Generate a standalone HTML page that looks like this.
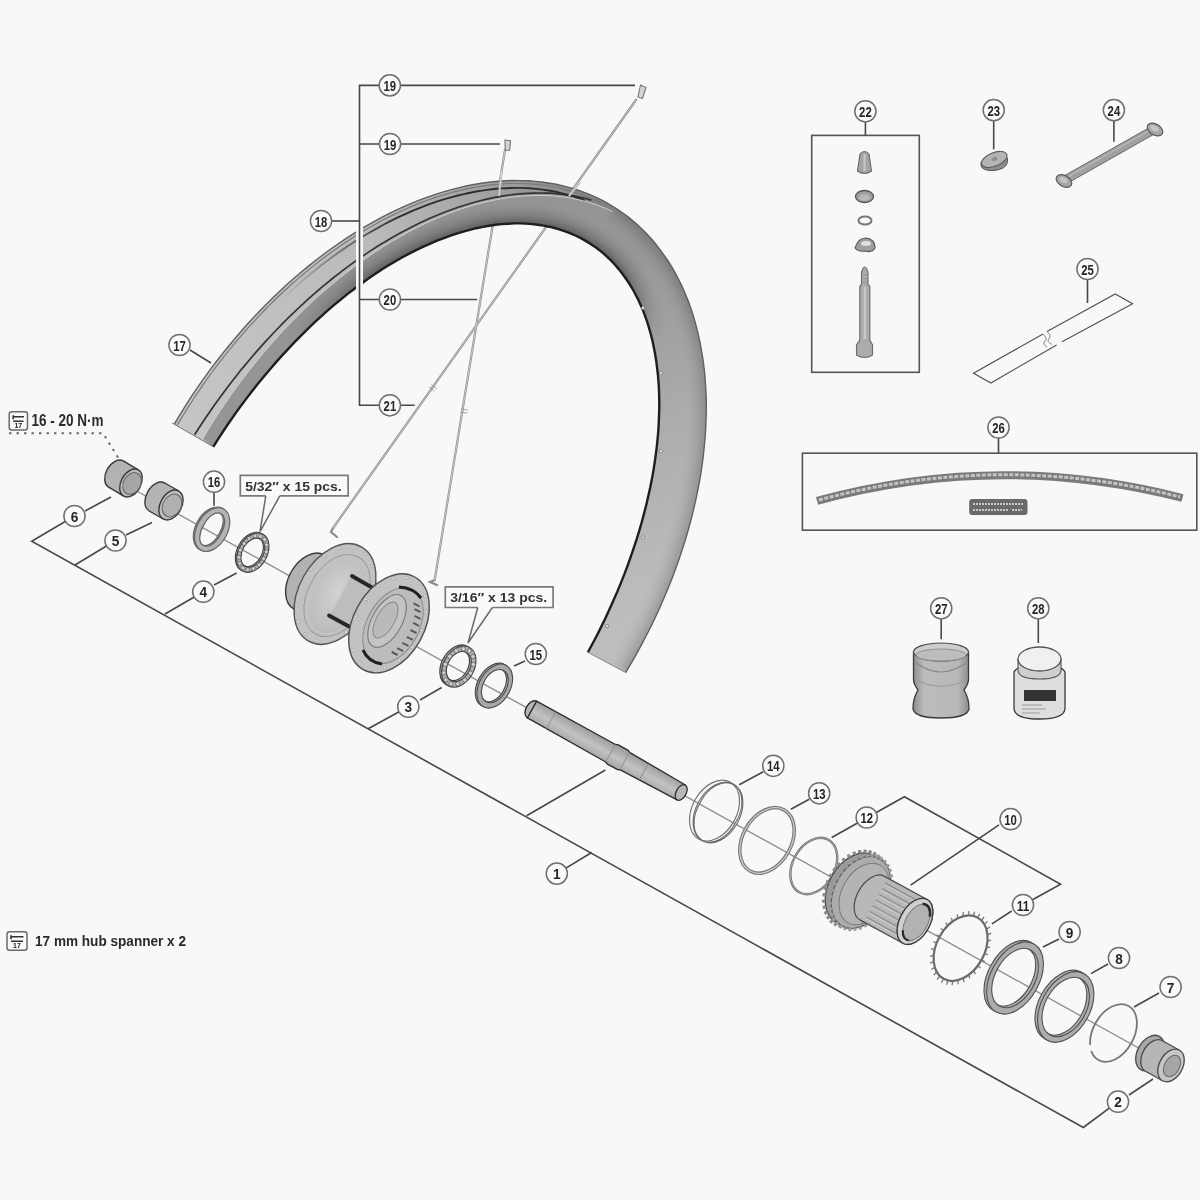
<!DOCTYPE html>
<html><head><meta charset="utf-8"><style>
html,body{margin:0;padding:0;background:#f8f8f8;width:1200px;height:1200px;overflow:hidden}
svg{display:block;filter:blur(0.6px)}
text{font-family:"Liberation Sans",sans-serif;font-weight:bold;fill:#262626}
</style></head><body>
<svg width="1200" height="1200" viewBox="0 0 1200 1200">
<rect width="1200" height="1200" fill="#f8f8f8"/>
<g stroke="#8a8a8a" stroke-width="2.2" fill="none" stroke-linecap="round">
<path d="M636,100 L333,528 L331,532 L337,537"/>
<path d="M505,150 L434.7,580 L430,582 L437,585"/>
</g>
<g stroke="#d8d8d8" stroke-width="0.8" fill="none">
<path d="M636,100 L333,528"/><path d="M505,150 L434.7,580"/>
</g>
<line x1="431.1" y1="384.7" x2="436.8" y2="388.7" stroke="#9a9a9a" stroke-width="0.9"/>
<line x1="429.2" y1="387.3" x2="434.9" y2="391.3" stroke="#9a9a9a" stroke-width="0.9"/>
<line x1="460.8" y1="408.9" x2="467.7" y2="410" stroke="#9a9a9a" stroke-width="0.9"/>
<line x1="460.3" y1="412" x2="467.2" y2="413.1" stroke="#9a9a9a" stroke-width="0.9"/>
<path d="M640.5,85 l5.5,2.5 l-3.5,11 l-4.5,-1.5 z" fill="#d4d4d4" stroke="#777" stroke-width="1.1"/>
<path d="M505,140 l5.5,0.8 l-0.8,9.5 l-4.5,0 z" fill="#d4d4d4" stroke="#777" stroke-width="1.1"/>
<defs><clipPath id="sideclip"><path d="M202.7,438.8 L206.2,433.0 L209.7,427.1 L213.4,421.3 L217.0,415.6 L220.8,409.9 L224.6,404.2 L228.5,398.6 L232.4,393.0 L236.4,387.5 L240.4,382.0 L244.5,376.6 L248.7,371.2 L252.9,365.9 L257.1,360.6 L261.4,355.4 L265.7,350.3 L270.1,345.2 L274.6,340.2 L279.0,335.2 L283.5,330.3 L288.1,325.5 L292.7,320.8 L297.3,316.1 L302.0,311.5 L306.7,306.9 L311.4,302.5 L316.2,298.1 L321.0,293.8 L325.8,289.5 L330.7,285.4 L335.6,281.3 L340.5,277.3 L345.4,273.4 L350.4,269.6 L355.4,265.8 L360.3,262.2 L365.4,258.6 L370.4,255.1 L375.4,251.7 L380.5,248.5 L385.5,245.2 L390.6,242.1 L395.7,239.1 L400.8,236.2 L405.9,233.4 L411.0,230.6 L416.1,228.0 L421.2,225.5 L426.3,223.0 L431.4,220.7 L436.5,218.4 L441.6,216.3 L446.7,214.3 L451.7,212.3 L456.8,210.5 L461.8,208.8 L466.9,207.1 L471.9,205.6 L476.9,204.2 L481.9,202.9 L486.9,201.7 L491.8,200.6 L496.7,199.6 L501.6,198.7 L506.5,197.9 L511.4,197.2 L516.2,196.7 L521.0,196.2 L525.8,195.9 L530.5,195.6 L535.2,195.5 L539.8,195.5 L544.5,195.5 L549.1,195.7 L553.6,196.0 L558.1,196.4 L562.6,196.9 L567.0,197.5 L571.4,198.3 L575.7,199.1 L580.0,200.0 L584.2,201.1 L588.4,202.2 L592.5,203.5 L596.6,204.8 L600.6,206.3 L604.6,207.9 L608.5,209.6 L612.4,211.3 L614.8,207.6 L620.4,211.3 L625.9,215.2 L631.2,219.4 L636.3,223.8 L641.3,228.4 L646.1,233.2 L650.8,238.3 L655.3,243.5 L659.6,248.9 L663.7,254.6 L667.7,260.4 L671.5,266.5 L675.1,272.7 L678.5,279.1 L681.7,285.7 L684.7,292.5 L687.6,299.5 L690.2,306.6 L692.7,313.9 L694.9,321.3 L697.0,328.9 L698.8,336.6 L700.5,344.5 L701.9,352.5 L703.1,360.7 L704.2,368.9 L705.0,377.3 L705.6,385.8 L706.0,394.4 L706.2,403.2 L706.2,412.0 L706.0,420.9 L705.6,429.9 L705.0,438.9 L704.1,448.1 L703.1,457.3 L701.9,466.5 L700.4,475.9 L698.8,485.2 L696.9,494.6 L694.9,504.1 L692.6,513.5 L690.2,523.0 L687.5,532.5 L684.7,542.0 L681.6,551.5 L678.4,561.1 L675.0,570.6 L671.4,580.0 L667.6,589.5 L663.6,598.9 L659.5,608.3 L655.2,617.6 L650.7,626.9 L646.0,636.2 L641.2,645.3 L636.2,654.5 L631.0,663.5 L625.7,672.4 L587.9,652.2 L592.5,643.7 L597.0,635.2 L601.3,626.6 L605.5,618.0 L609.5,609.3 L613.4,600.6 L617.2,591.9 L620.8,583.1 L624.3,574.4 L627.6,565.6 L630.7,556.9 L633.7,548.1 L636.6,539.4 L639.3,530.7 L641.8,522.0 L644.1,513.3 L646.3,504.7 L648.3,496.1 L650.2,487.6 L651.9,479.1 L653.4,470.6 L654.7,462.3 L655.9,453.9 L656.9,445.7 L657.7,437.6 L658.4,429.5 L658.8,421.5 L659.1,413.6 L659.3,405.8 L659.2,398.1 L659.0,390.6 L658.6,383.1 L658.0,375.8 L657.2,368.5 L656.3,361.5 L655.2,354.5 L653.9,347.7 L652.5,341.0 L650.9,334.5 L649.1,328.1 L647.2,321.9 L645.0,315.8 L642.8,309.9 L640.3,304.2 L637.7,298.6 L634.9,293.2 L632.0,288.0 L628.9,283.0 L625.6,278.2 L622.2,273.5 L618.7,269.1 L615.0,264.8 L611.2,260.7 L607.2,256.8 L603.0,253.2 L598.8,249.7 L594.4,246.4 L589.8,243.4 L585.2,240.6 L580.4,237.9 L575.4,235.5 L570.4,233.3 L565.2,231.3 L560.0,229.6 L554.6,228.0 L549.1,226.7 L543.5,225.6 L537.8,224.7 L532.0,224.1 L526.2,223.6 L520.2,223.4 L514.2,223.4 L508.0,223.7 L501.8,224.1 L495.5,224.8 L489.2,225.7 L482.8,226.9 L476.3,228.2 L469.8,229.8 L463.2,231.6 L456.6,233.6 L449.9,235.8 L443.2,238.3 L436.4,240.9 L429.7,243.8 L422.9,246.9 L416.1,250.1 L409.2,253.6 L402.4,257.3 L395.5,261.2 L388.7,265.3 L381.8,269.6 L375.0,274.1 L368.1,278.8 L361.3,283.7 L354.5,288.7 L347.7,293.9 L341.0,299.4 L334.2,304.9 L327.5,310.7 L320.9,316.6 L314.3,322.7 L307.8,328.9 L301.3,335.3 L294.8,341.9 L288.5,348.6 L282.2,355.4 L275.9,362.4 L269.8,369.5 L263.7,376.7 L257.7,384.1 L251.8,391.5 L246.0,399.1 L240.2,406.8 L234.6,414.6 L229.1,422.5 L223.7,430.5 L218.4,438.6 L213.2,446.8 Z"/></clipPath><clipPath id="rimclip"><path d="M174.3,424.2 L179.7,415.1 L185.3,406.1 L191.0,397.2 L196.9,388.4 L203.0,379.7 L209.1,371.2 L215.4,362.7 L221.9,354.4 L228.5,346.2 L235.2,338.2 L242.0,330.3 L248.9,322.5 L255.9,314.9 L263.1,307.5 L270.3,300.2 L277.6,293.2 L285.0,286.2 L292.5,279.5 L300.1,273.0 L307.8,266.6 L315.5,260.5 L323.3,254.5 L331.1,248.8 L339.0,243.3 L346.9,237.9 L354.9,232.8 L362.9,227.9 L370.9,223.3 L378.9,218.8 L387.0,214.6 L395.1,210.7 L403.2,206.9 L411.2,203.4 L419.3,200.2 L427.4,197.1 L435.4,194.4 L443.4,191.9 L451.4,189.6 L459.4,187.6 L467.3,185.8 L475.2,184.3 L483.0,183.0 L490.8,182.0 L498.5,181.3 L506.1,180.8 L513.7,180.5 L521.1,180.6 L528.5,180.8 L535.8,181.4 L543.0,182.2 L550.2,183.2 L557.2,184.5 L564.1,186.1 L570.8,187.9 L577.5,190.0 L584.1,192.3 L590.5,194.8 L596.7,197.7 L602.9,200.7 L608.9,204.0 L614.7,207.6 L620.4,211.3 L626.0,215.3 L631.4,219.6 L636.6,224.1 L641.7,228.8 L646.6,233.7 L651.3,238.8 L655.8,244.2 L660.2,249.8 L664.4,255.6 L668.4,261.5 L672.2,267.7 L675.8,274.1 L679.3,280.7 L682.5,287.4 L685.5,294.4 L688.4,301.5 L691.0,308.8 L693.4,316.2 L695.6,323.9 L697.6,331.6 L699.4,339.6 L701.0,347.6 L702.4,355.8 L703.6,364.2 L704.6,372.6 L705.3,381.2 L705.8,389.9 L706.2,398.8 L706.3,407.7 L706.1,416.7 L705.8,425.8 L705.3,435.0 L704.5,444.3 L703.5,453.6 L702.4,463.0 L701.0,472.5 L699.4,482.0 L697.5,491.5 L695.5,501.1 L693.3,510.7 L690.9,520.4 L688.2,530.0 L685.4,539.7 L682.3,549.4 L679.1,559.1 L675.6,568.7 L672.0,578.4 L668.2,588.0 L664.2,597.6 L660.0,607.2 L655.6,616.7 L651.1,626.1 L646.3,635.5 L641.4,644.9 L636.4,654.1 L631.1,663.3 L625.7,672.4 L587.9,652.2 L592.5,643.7 L597.0,635.2 L601.3,626.6 L605.5,618.0 L609.5,609.3 L613.4,600.6 L617.2,591.9 L620.8,583.1 L624.3,574.4 L627.6,565.6 L630.7,556.9 L633.7,548.1 L636.6,539.4 L639.3,530.7 L641.8,522.0 L644.1,513.3 L646.3,504.7 L648.3,496.1 L650.2,487.6 L651.9,479.1 L653.4,470.6 L654.7,462.3 L655.9,453.9 L656.9,445.7 L657.7,437.6 L658.4,429.5 L658.8,421.5 L659.1,413.6 L659.3,405.8 L659.2,398.1 L659.0,390.6 L658.6,383.1 L658.0,375.8 L657.2,368.5 L656.3,361.5 L655.2,354.5 L653.9,347.7 L652.5,341.0 L650.9,334.5 L649.1,328.1 L647.2,321.9 L645.0,315.8 L642.8,309.9 L640.3,304.2 L637.7,298.6 L634.9,293.2 L632.0,288.0 L628.9,283.0 L625.6,278.2 L622.2,273.5 L618.7,269.1 L615.0,264.8 L611.2,260.7 L607.2,256.8 L603.0,253.2 L598.8,249.7 L594.4,246.4 L589.8,243.4 L585.2,240.6 L580.4,237.9 L575.4,235.5 L570.4,233.3 L565.2,231.3 L560.0,229.6 L554.6,228.0 L549.1,226.7 L543.5,225.6 L537.8,224.7 L532.0,224.1 L526.2,223.6 L520.2,223.4 L514.2,223.4 L508.0,223.7 L501.8,224.1 L495.5,224.8 L489.2,225.7 L482.8,226.9 L476.3,228.2 L469.8,229.8 L463.2,231.6 L456.6,233.6 L449.9,235.8 L443.2,238.3 L436.4,240.9 L429.7,243.8 L422.9,246.9 L416.1,250.1 L409.2,253.6 L402.4,257.3 L395.5,261.2 L388.7,265.3 L381.8,269.6 L375.0,274.1 L368.1,278.8 L361.3,283.7 L354.5,288.7 L347.7,293.9 L341.0,299.4 L334.2,304.9 L327.5,310.7 L320.9,316.6 L314.3,322.7 L307.8,328.9 L301.3,335.3 L294.8,341.9 L288.5,348.6 L282.2,355.4 L275.9,362.4 L269.8,369.5 L263.7,376.7 L257.7,384.1 L251.8,391.5 L246.0,399.1 L240.2,406.8 L234.6,414.6 L229.1,422.5 L223.7,430.5 L218.4,438.6 L213.2,446.8 Z"/></clipPath></defs>
<defs><linearGradient id="sg" gradientUnits="userSpaceOnUse" x1="400" y1="150" x2="650" y2="650"><stop offset="0" stop-color="#939393"/><stop offset="0.35" stop-color="#969696"/><stop offset="0.66" stop-color="#adadad"/><stop offset="0.9" stop-color="#bcbcbc"/><stop offset="1" stop-color="#bebebe"/></linearGradient><linearGradient id="d1g" gradientUnits="userSpaceOnUse" x1="280" y1="0" x2="400" y2="0"><stop offset="0" stop-color="#2e2e2e" stop-opacity="0"/><stop offset="1" stop-color="#2e2e2e" stop-opacity="1"/></linearGradient><linearGradient id="cg" gradientUnits="userSpaceOnUse" x1="172" y1="423" x2="212" y2="446"><stop offset="0" stop-color="#b0b0b0"/><stop offset="1" stop-color="#c4c4c4"/></linearGradient></defs>
<defs><linearGradient id="chg" gradientUnits="userSpaceOnUse" x1="172" y1="0" x2="620" y2="0"><stop offset="0" stop-color="#c6c6c6"/><stop offset="0.45" stop-color="#bababa"/><stop offset="0.7" stop-color="#a2a2a2"/><stop offset="0.9" stop-color="#8c8c8c"/><stop offset="1" stop-color="#7c7c7c"/></linearGradient></defs>
<path d="M174.3,424.2 L179.7,415.1 L185.3,406.1 L191.0,397.2 L196.9,388.4 L203.0,379.7 L209.1,371.2 L215.4,362.7 L221.9,354.4 L228.5,346.2 L235.2,338.2 L242.0,330.3 L248.9,322.5 L255.9,314.9 L263.1,307.5 L270.3,300.2 L277.6,293.2 L285.0,286.2 L292.5,279.5 L300.1,273.0 L307.8,266.6 L315.5,260.5 L323.3,254.5 L331.1,248.8 L339.0,243.3 L346.9,237.9 L354.9,232.8 L362.9,227.9 L370.9,223.3 L378.9,218.8 L387.0,214.6 L395.1,210.7 L403.2,206.9 L411.2,203.4 L419.3,200.2 L427.4,197.1 L435.4,194.4 L443.4,191.9 L451.4,189.6 L459.4,187.6 L467.3,185.8 L475.2,184.3 L483.0,183.0 L490.8,182.0 L498.5,181.3 L506.1,180.8 L513.7,180.5 L521.1,180.6 L528.5,180.8 L535.8,181.4 L543.0,182.2 L550.2,183.2 L557.2,184.5 L564.1,186.1 L570.8,187.9 L577.5,190.0 L584.1,192.3 L590.5,194.8 L596.7,197.7 L602.9,200.7 L608.9,204.0 L614.7,207.6 L620.4,211.3 L626.0,215.3 L631.4,219.6 L636.6,224.1 L641.7,228.8 L646.6,233.7 L651.3,238.8 L655.8,244.2 L660.2,249.8 L664.4,255.6 L668.4,261.5 L672.2,267.7 L675.8,274.1 L679.3,280.7 L682.5,287.4 L685.5,294.4 L688.4,301.5 L691.0,308.8 L693.4,316.2 L695.6,323.9 L697.6,331.6 L699.4,339.6 L701.0,347.6 L702.4,355.8 L703.6,364.2 L704.6,372.6 L705.3,381.2 L705.8,389.9 L706.2,398.8 L706.3,407.7 L706.1,416.7 L705.8,425.8 L705.3,435.0 L704.5,444.3 L703.5,453.6 L702.4,463.0 L701.0,472.5 L699.4,482.0 L697.5,491.5 L695.5,501.1 L693.3,510.7 L690.9,520.4 L688.2,530.0 L685.4,539.7 L682.3,549.4 L679.1,559.1 L675.6,568.7 L672.0,578.4 L668.2,588.0 L664.2,597.6 L660.0,607.2 L655.6,616.7 L651.1,626.1 L646.3,635.5 L641.4,644.9 L636.4,654.1 L631.1,663.3 L625.7,672.4 L587.9,652.2 L592.5,643.7 L597.0,635.2 L601.3,626.6 L605.5,618.0 L609.5,609.3 L613.4,600.6 L617.2,591.9 L620.8,583.1 L624.3,574.4 L627.6,565.6 L630.7,556.9 L633.7,548.1 L636.6,539.4 L639.3,530.7 L641.8,522.0 L644.1,513.3 L646.3,504.7 L648.3,496.1 L650.2,487.6 L651.9,479.1 L653.4,470.6 L654.7,462.3 L655.9,453.9 L656.9,445.7 L657.7,437.6 L658.4,429.5 L658.8,421.5 L659.1,413.6 L659.3,405.8 L659.2,398.1 L659.0,390.6 L658.6,383.1 L658.0,375.8 L657.2,368.5 L656.3,361.5 L655.2,354.5 L653.9,347.7 L652.5,341.0 L650.9,334.5 L649.1,328.1 L647.2,321.9 L645.0,315.8 L642.8,309.9 L640.3,304.2 L637.7,298.6 L634.9,293.2 L632.0,288.0 L628.9,283.0 L625.6,278.2 L622.2,273.5 L618.7,269.1 L615.0,264.8 L611.2,260.7 L607.2,256.8 L603.0,253.2 L598.8,249.7 L594.4,246.4 L589.8,243.4 L585.2,240.6 L580.4,237.9 L575.4,235.5 L570.4,233.3 L565.2,231.3 L560.0,229.6 L554.6,228.0 L549.1,226.7 L543.5,225.6 L537.8,224.7 L532.0,224.1 L526.2,223.6 L520.2,223.4 L514.2,223.4 L508.0,223.7 L501.8,224.1 L495.5,224.8 L489.2,225.7 L482.8,226.9 L476.3,228.2 L469.8,229.8 L463.2,231.6 L456.6,233.6 L449.9,235.8 L443.2,238.3 L436.4,240.9 L429.7,243.8 L422.9,246.9 L416.1,250.1 L409.2,253.6 L402.4,257.3 L395.5,261.2 L388.7,265.3 L381.8,269.6 L375.0,274.1 L368.1,278.8 L361.3,283.7 L354.5,288.7 L347.7,293.9 L341.0,299.4 L334.2,304.9 L327.5,310.7 L320.9,316.6 L314.3,322.7 L307.8,328.9 L301.3,335.3 L294.8,341.9 L288.5,348.6 L282.2,355.4 L275.9,362.4 L269.8,369.5 L263.7,376.7 L257.7,384.1 L251.8,391.5 L246.0,399.1 L240.2,406.8 L234.6,414.6 L229.1,422.5 L223.7,430.5 L218.4,438.6 L213.2,446.8 Z" fill="url(#chg)"/>
<path d="M202.7,438.8 L206.2,433.0 L209.7,427.1 L213.4,421.3 L217.0,415.6 L220.8,409.9 L224.6,404.2 L228.5,398.6 L232.4,393.0 L236.4,387.5 L240.4,382.0 L244.5,376.6 L248.7,371.2 L252.9,365.9 L257.1,360.6 L261.4,355.4 L265.7,350.3 L270.1,345.2 L274.6,340.2 L279.0,335.2 L283.5,330.3 L288.1,325.5 L292.7,320.8 L297.3,316.1 L302.0,311.5 L306.7,306.9 L311.4,302.5 L316.2,298.1 L321.0,293.8 L325.8,289.5 L330.7,285.4 L335.6,281.3 L340.5,277.3 L345.4,273.4 L350.4,269.6 L355.4,265.8 L360.3,262.2 L365.4,258.6 L370.4,255.1 L375.4,251.7 L380.5,248.5 L385.5,245.2 L390.6,242.1 L395.7,239.1 L400.8,236.2 L405.9,233.4 L411.0,230.6 L416.1,228.0 L421.2,225.5 L426.3,223.0 L431.4,220.7 L436.5,218.4 L441.6,216.3 L446.7,214.3 L451.7,212.3 L456.8,210.5 L461.8,208.8 L466.9,207.1 L471.9,205.6 L476.9,204.2 L481.9,202.9 L486.9,201.7 L491.8,200.6 L496.7,199.6 L501.6,198.7 L506.5,197.9 L511.4,197.2 L516.2,196.7 L521.0,196.2 L525.8,195.9 L530.5,195.6 L535.2,195.5 L539.8,195.5 L544.5,195.5 L549.1,195.7 L553.6,196.0 L558.1,196.4 L562.6,196.9 L567.0,197.5 L571.4,198.3 L575.7,199.1 L580.0,200.0 L584.2,201.1 L588.4,202.2 L592.5,203.5 L596.6,204.8 L600.6,206.3 L604.6,207.9 L608.5,209.6 L612.4,211.3 L614.8,207.6 L620.4,211.3 L625.9,215.2 L631.2,219.4 L636.3,223.8 L641.3,228.4 L646.1,233.2 L650.8,238.3 L655.3,243.5 L659.6,248.9 L663.7,254.6 L667.7,260.4 L671.5,266.5 L675.1,272.7 L678.5,279.1 L681.7,285.7 L684.7,292.5 L687.6,299.5 L690.2,306.6 L692.7,313.9 L694.9,321.3 L697.0,328.9 L698.8,336.6 L700.5,344.5 L701.9,352.5 L703.1,360.7 L704.2,368.9 L705.0,377.3 L705.6,385.8 L706.0,394.4 L706.2,403.2 L706.2,412.0 L706.0,420.9 L705.6,429.9 L705.0,438.9 L704.1,448.1 L703.1,457.3 L701.9,466.5 L700.4,475.9 L698.8,485.2 L696.9,494.6 L694.9,504.1 L692.6,513.5 L690.2,523.0 L687.5,532.5 L684.7,542.0 L681.6,551.5 L678.4,561.1 L675.0,570.6 L671.4,580.0 L667.6,589.5 L663.6,598.9 L659.5,608.3 L655.2,617.6 L650.7,626.9 L646.0,636.2 L641.2,645.3 L636.2,654.5 L631.0,663.5 L625.7,672.4 L587.9,652.2 L592.5,643.7 L597.0,635.2 L601.3,626.6 L605.5,618.0 L609.5,609.3 L613.4,600.6 L617.2,591.9 L620.8,583.1 L624.3,574.4 L627.6,565.6 L630.7,556.9 L633.7,548.1 L636.6,539.4 L639.3,530.7 L641.8,522.0 L644.1,513.3 L646.3,504.7 L648.3,496.1 L650.2,487.6 L651.9,479.1 L653.4,470.6 L654.7,462.3 L655.9,453.9 L656.9,445.7 L657.7,437.6 L658.4,429.5 L658.8,421.5 L659.1,413.6 L659.3,405.8 L659.2,398.1 L659.0,390.6 L658.6,383.1 L658.0,375.8 L657.2,368.5 L656.3,361.5 L655.2,354.5 L653.9,347.7 L652.5,341.0 L650.9,334.5 L649.1,328.1 L647.2,321.9 L645.0,315.8 L642.8,309.9 L640.3,304.2 L637.7,298.6 L634.9,293.2 L632.0,288.0 L628.9,283.0 L625.6,278.2 L622.2,273.5 L618.7,269.1 L615.0,264.8 L611.2,260.7 L607.2,256.8 L603.0,253.2 L598.8,249.7 L594.4,246.4 L589.8,243.4 L585.2,240.6 L580.4,237.9 L575.4,235.5 L570.4,233.3 L565.2,231.3 L560.0,229.6 L554.6,228.0 L549.1,226.7 L543.5,225.6 L537.8,224.7 L532.0,224.1 L526.2,223.6 L520.2,223.4 L514.2,223.4 L508.0,223.7 L501.8,224.1 L495.5,224.8 L489.2,225.7 L482.8,226.9 L476.3,228.2 L469.8,229.8 L463.2,231.6 L456.6,233.6 L449.9,235.8 L443.2,238.3 L436.4,240.9 L429.7,243.8 L422.9,246.9 L416.1,250.1 L409.2,253.6 L402.4,257.3 L395.5,261.2 L388.7,265.3 L381.8,269.6 L375.0,274.1 L368.1,278.8 L361.3,283.7 L354.5,288.7 L347.7,293.9 L341.0,299.4 L334.2,304.9 L327.5,310.7 L320.9,316.6 L314.3,322.7 L307.8,328.9 L301.3,335.3 L294.8,341.9 L288.5,348.6 L282.2,355.4 L275.9,362.4 L269.8,369.5 L263.7,376.7 L257.7,384.1 L251.8,391.5 L246.0,399.1 L240.2,406.8 L234.6,414.6 L229.1,422.5 L223.7,430.5 L218.4,438.6 L213.2,446.8 Z" fill="url(#sg)"/>
<defs><filter id="sb" x="-10%" y="-10%" width="120%" height="120%"><feGaussianBlur stdDeviation="3"/></filter></defs>
<g clip-path="url(#sideclip)" fill="none"><g filter="url(#sb)">
<defs><linearGradient id="mg" gradientUnits="userSpaceOnUse" x1="0" y1="215" x2="0" y2="340"><stop offset="0" stop-color="#fff"/><stop offset="0.45" stop-color="#fff"/><stop offset="1" stop-color="#000"/></linearGradient><mask id="tm"><rect x="0" y="0" width="1200" height="1200" fill="url(#mg)"/></mask></defs>
<g mask="url(#tm)">
<path d="M213.2,446.8 L218.4,438.6 L223.7,430.5 L229.1,422.5 L234.6,414.6 L240.2,406.8 L246.0,399.1 L251.8,391.5 L257.7,384.1 L263.7,376.7 L269.8,369.5 L275.9,362.4 L282.2,355.4 L288.5,348.6 L294.8,341.9 L301.3,335.3 L307.8,328.9 L314.3,322.7 L320.9,316.6 L327.5,310.7 L334.2,304.9 L341.0,299.4 L347.7,293.9 L354.5,288.7 L361.3,283.7 L368.1,278.8 L375.0,274.1 L381.8,269.6 L388.7,265.3 L395.5,261.2 L402.4,257.3 L409.2,253.6 L416.1,250.1 L422.9,246.9 L429.7,243.8 L436.4,240.9 L443.2,238.3 L449.9,235.8 L456.6,233.6 L463.2,231.6 L469.8,229.8 L476.3,228.2 L482.8,226.9 L489.2,225.7 L495.5,224.8 L501.8,224.1 L508.0,223.7 L514.2,223.4 L520.2,223.4 L526.2,223.6 L532.0,224.1 L537.8,224.7 L543.5,225.6 L549.1,226.7 L554.6,228.0 L560.0,229.6 L565.2,231.3 L570.4,233.3 L575.4,235.5 L580.4,237.9 L585.2,240.6 L589.8,243.4 L594.4,246.4 L598.8,249.7 L603.0,253.2 L607.2,256.8 L611.2,260.7 L615.0,264.8 L618.7,269.1 L622.2,273.5 L625.6,278.2 L628.9,283.0 L632.0,288.0 L634.9,293.2 L637.7,298.6 L640.3,304.2 L642.8,309.9 L645.0,315.8 L647.2,321.9 L649.1,328.1 L650.9,334.5 L652.5,341.0 L653.9,347.7 L655.2,354.5 L656.3,361.5 L657.2,368.5 L658.0,375.8 L658.6,383.1 L659.0,390.6 L659.2,398.1 L659.3,405.8 L659.1,413.6 L658.8,421.5 L658.4,429.5 L657.7,437.6 L656.9,445.7 L655.9,453.9 L654.7,462.3 L653.4,470.6 L651.9,479.1 L650.2,487.6 L648.3,496.1 L646.3,504.7 L644.1,513.3 L641.8,522.0 L639.3,530.7 L636.6,539.4 L633.7,548.1 L630.7,556.9 L627.6,565.6 L624.3,574.4 L620.8,583.1 L617.2,591.9 L613.4,600.6 L609.5,609.3 L605.5,618.0 L601.3,626.6 L597.0,635.2 L592.5,643.7 L587.9,652.2" stroke="#000" stroke-opacity="0.1" stroke-width="30"/>
<path d="M213.2,446.8 L218.4,438.6 L223.7,430.5 L229.1,422.5 L234.6,414.6 L240.2,406.8 L246.0,399.1 L251.8,391.5 L257.7,384.1 L263.7,376.7 L269.8,369.5 L275.9,362.4 L282.2,355.4 L288.5,348.6 L294.8,341.9 L301.3,335.3 L307.8,328.9 L314.3,322.7 L320.9,316.6 L327.5,310.7 L334.2,304.9 L341.0,299.4 L347.7,293.9 L354.5,288.7 L361.3,283.7 L368.1,278.8 L375.0,274.1 L381.8,269.6 L388.7,265.3 L395.5,261.2 L402.4,257.3 L409.2,253.6 L416.1,250.1 L422.9,246.9 L429.7,243.8 L436.4,240.9 L443.2,238.3 L449.9,235.8 L456.6,233.6 L463.2,231.6 L469.8,229.8 L476.3,228.2 L482.8,226.9 L489.2,225.7 L495.5,224.8 L501.8,224.1 L508.0,223.7 L514.2,223.4 L520.2,223.4 L526.2,223.6 L532.0,224.1 L537.8,224.7 L543.5,225.6 L549.1,226.7 L554.6,228.0 L560.0,229.6 L565.2,231.3 L570.4,233.3 L575.4,235.5 L580.4,237.9 L585.2,240.6 L589.8,243.4 L594.4,246.4 L598.8,249.7 L603.0,253.2 L607.2,256.8 L611.2,260.7 L615.0,264.8 L618.7,269.1 L622.2,273.5 L625.6,278.2 L628.9,283.0 L632.0,288.0 L634.9,293.2 L637.7,298.6 L640.3,304.2 L642.8,309.9 L645.0,315.8 L647.2,321.9 L649.1,328.1 L650.9,334.5 L652.5,341.0 L653.9,347.7 L655.2,354.5 L656.3,361.5 L657.2,368.5 L658.0,375.8 L658.6,383.1 L659.0,390.6 L659.2,398.1 L659.3,405.8 L659.1,413.6 L658.8,421.5 L658.4,429.5 L657.7,437.6 L656.9,445.7 L655.9,453.9 L654.7,462.3 L653.4,470.6 L651.9,479.1 L650.2,487.6 L648.3,496.1 L646.3,504.7 L644.1,513.3 L641.8,522.0 L639.3,530.7 L636.6,539.4 L633.7,548.1 L630.7,556.9 L627.6,565.6 L624.3,574.4 L620.8,583.1 L617.2,591.9 L613.4,600.6 L609.5,609.3 L605.5,618.0 L601.3,626.6 L597.0,635.2 L592.5,643.7 L587.9,652.2" stroke="#000" stroke-opacity="0.14" stroke-width="14"/>
<path d="M213.2,446.8 L218.4,438.6 L223.7,430.5 L229.1,422.5 L234.6,414.6 L240.2,406.8 L246.0,399.1 L251.8,391.5 L257.7,384.1 L263.7,376.7 L269.8,369.5 L275.9,362.4 L282.2,355.4 L288.5,348.6 L294.8,341.9 L301.3,335.3 L307.8,328.9 L314.3,322.7 L320.9,316.6 L327.5,310.7 L334.2,304.9 L341.0,299.4 L347.7,293.9 L354.5,288.7 L361.3,283.7 L368.1,278.8 L375.0,274.1 L381.8,269.6 L388.7,265.3 L395.5,261.2 L402.4,257.3 L409.2,253.6 L416.1,250.1 L422.9,246.9 L429.7,243.8 L436.4,240.9 L443.2,238.3 L449.9,235.8 L456.6,233.6 L463.2,231.6 L469.8,229.8 L476.3,228.2 L482.8,226.9 L489.2,225.7 L495.5,224.8 L501.8,224.1 L508.0,223.7 L514.2,223.4 L520.2,223.4 L526.2,223.6 L532.0,224.1 L537.8,224.7 L543.5,225.6 L549.1,226.7 L554.6,228.0 L560.0,229.6 L565.2,231.3 L570.4,233.3 L575.4,235.5 L580.4,237.9 L585.2,240.6 L589.8,243.4 L594.4,246.4 L598.8,249.7 L603.0,253.2 L607.2,256.8 L611.2,260.7 L615.0,264.8 L618.7,269.1 L622.2,273.5 L625.6,278.2 L628.9,283.0 L632.0,288.0 L634.9,293.2 L637.7,298.6 L640.3,304.2 L642.8,309.9 L645.0,315.8 L647.2,321.9 L649.1,328.1 L650.9,334.5 L652.5,341.0 L653.9,347.7 L655.2,354.5 L656.3,361.5 L657.2,368.5 L658.0,375.8 L658.6,383.1 L659.0,390.6 L659.2,398.1 L659.3,405.8 L659.1,413.6 L658.8,421.5 L658.4,429.5 L657.7,437.6 L656.9,445.7 L655.9,453.9 L654.7,462.3 L653.4,470.6 L651.9,479.1 L650.2,487.6 L648.3,496.1 L646.3,504.7 L644.1,513.3 L641.8,522.0 L639.3,530.7 L636.6,539.4 L633.7,548.1 L630.7,556.9 L627.6,565.6 L624.3,574.4 L620.8,583.1 L617.2,591.9 L613.4,600.6 L609.5,609.3 L605.5,618.0 L601.3,626.6 L597.0,635.2 L592.5,643.7 L587.9,652.2" stroke="#000" stroke-opacity="0.22" stroke-width="5"/>
</g>
<path d="M614.8,207.6 L620.4,211.3 L625.9,215.2 L631.2,219.4 L636.3,223.8 L641.3,228.4 L646.1,233.2 L650.8,238.3 L655.3,243.5 L659.6,248.9 L663.7,254.6 L667.7,260.4 L671.5,266.5 L675.1,272.7 L678.5,279.1 L681.7,285.7 L684.7,292.5 L687.6,299.5 L690.2,306.6 L692.7,313.9 L694.9,321.3 L697.0,328.9 L698.8,336.6 L700.5,344.5 L701.9,352.5 L703.1,360.7 L704.2,368.9 L705.0,377.3 L705.6,385.8 L706.0,394.4 L706.2,403.2 L706.2,412.0 L706.0,420.9 L705.6,429.9 L705.0,438.9 L704.1,448.1 L703.1,457.3 L701.9,466.5 L700.4,475.9 L698.8,485.2 L696.9,494.6 L694.9,504.1 L692.6,513.5 L690.2,523.0 L687.5,532.5 L684.7,542.0 L681.6,551.5 L678.4,561.1 L675.0,570.6 L671.4,580.0 L667.6,589.5 L663.6,598.9 L659.5,608.3 L655.2,617.6 L650.7,626.9 L646.0,636.2 L641.2,645.3 L636.2,654.5 L631.0,663.5 L625.7,672.4" stroke="#000" stroke-opacity="0.05" stroke-width="28"/>
<path d="M614.8,207.6 L620.4,211.3 L625.9,215.2 L631.2,219.4 L636.3,223.8 L641.3,228.4 L646.1,233.2 L650.8,238.3 L655.3,243.5 L659.6,248.9 L663.7,254.6 L667.7,260.4 L671.5,266.5 L675.1,272.7 L678.5,279.1 L681.7,285.7 L684.7,292.5 L687.6,299.5 L690.2,306.6 L692.7,313.9 L694.9,321.3 L697.0,328.9 L698.8,336.6 L700.5,344.5 L701.9,352.5 L703.1,360.7 L704.2,368.9 L705.0,377.3 L705.6,385.8 L706.0,394.4 L706.2,403.2 L706.2,412.0 L706.0,420.9 L705.6,429.9 L705.0,438.9 L704.1,448.1 L703.1,457.3 L701.9,466.5 L700.4,475.9 L698.8,485.2 L696.9,494.6 L694.9,504.1 L692.6,513.5 L690.2,523.0 L687.5,532.5 L684.7,542.0 L681.6,551.5 L678.4,561.1 L675.0,570.6 L671.4,580.0 L667.6,589.5 L663.6,598.9 L659.5,608.3 L655.2,617.6 L650.7,626.9 L646.0,636.2 L641.2,645.3 L636.2,654.5 L631.0,663.5 L625.7,672.4" stroke="#000" stroke-opacity="0.07" stroke-width="14"/>
<path d="M614.8,207.6 L620.4,211.3 L625.9,215.2 L631.2,219.4 L636.3,223.8 L641.3,228.4 L646.1,233.2 L650.8,238.3 L655.3,243.5 L659.6,248.9 L663.7,254.6 L667.7,260.4 L671.5,266.5 L675.1,272.7 L678.5,279.1 L681.7,285.7 L684.7,292.5 L687.6,299.5 L690.2,306.6 L692.7,313.9 L694.9,321.3 L697.0,328.9 L698.8,336.6 L700.5,344.5 L701.9,352.5 L703.1,360.7 L704.2,368.9 L705.0,377.3 L705.6,385.8 L706.0,394.4 L706.2,403.2 L706.2,412.0 L706.0,420.9 L705.6,429.9 L705.0,438.9 L704.1,448.1 L703.1,457.3 L701.9,466.5 L700.4,475.9 L698.8,485.2 L696.9,494.6 L694.9,504.1 L692.6,513.5 L690.2,523.0 L687.5,532.5 L684.7,542.0 L681.6,551.5 L678.4,561.1 L675.0,570.6 L671.4,580.0 L667.6,589.5 L663.6,598.9 L659.5,608.3 L655.2,617.6 L650.7,626.9 L646.0,636.2 L641.2,645.3 L636.2,654.5 L631.0,663.5 L625.7,672.4" stroke="#000" stroke-opacity="0.1" stroke-width="5"/>
</g></g>
<path d="M194.6,434.8 L198.1,429.2 L201.7,423.8 L205.3,418.3 L209.0,412.9 L212.7,407.5 L216.5,402.2 L220.3,396.9 L224.2,391.7 L228.1,386.5 L232.1,381.3 L236.1,376.2 L240.1,371.1 L244.2,366.1 L248.3,361.2 L252.5,356.3 L256.7,351.4 L261.0,346.6 L265.2,341.9 L269.5,337.2 L273.9,332.5 L278.3,328.0 L282.7,323.4 L287.1,319.0 L291.6,314.6 L296.1,310.3 L300.6,306.0 L305.2,301.8 L309.8,297.7 L314.4,293.6 L319.0,289.6 L323.7,285.7 L328.4,281.8 L333.0,278.0 L337.8,274.3 L342.5,270.7 L347.2,267.1 L352.0,263.6 L356.8,260.2 L361.6,256.9 L366.4,253.6 L371.2,250.4 L376.0,247.3 L380.8,244.3 L385.7,241.4 L390.5,238.5 L395.4,235.7 L400.2,233.0 L405.1,230.4 L409.9,227.9 L414.8,225.4 L419.6,223.1 L424.5,220.8 L429.3,218.6 L434.1,216.5 L439.0,214.5 L443.8,212.5 L448.6,210.7 L453.4,209.0 L458.2,207.3 L463.0,205.7 L467.8,204.2 L472.6,202.8 L477.3,201.5 L482.0,200.3 L486.7,199.2 L491.4,198.2 L496.1,197.2 L500.7,196.4 L505.4,195.7 L510.0,195.0 L514.5,194.4 L519.1,193.9 L523.6,193.6 L528.1,193.3 L532.6,193.1 L537.0,193.0 L541.4,193.0 L545.8,193.1 L550.1,193.2 L554.4,193.5 L558.7,193.9 L562.9,194.3 L567.1,194.9 L571.3,195.5 L575.4,196.2 L579.5,197.1 L583.5,198.0 L587.5,199.0 L591.4,200.1" fill="none" stroke="#333" stroke-width="1.7"/>
<path d="M180.5,428.3 L183.9,422.6 L187.4,417.0 L190.8,411.4 L194.4,405.8 L198.0,400.3 L201.7,394.8 L205.4,389.3 L209.2,383.9 L213.0,378.5 L216.9,373.2 L220.9,367.9 L224.9,362.7 L228.9,357.6 L233.0,352.4 L237.2,347.4 L241.4,342.4 L245.6,337.4 L249.9,332.6 L254.2,327.7 L258.6,323.0 L263.0,318.3 L267.5,313.6 L272.0,309.1 L276.5,304.6 L281.1,300.1 L285.7,295.8 L290.3,291.5 L295.0,287.3 L299.7,283.1 L304.4,279.1 L309.2,275.1 L313.9,271.2 L318.7,267.3 L323.6,263.6 L328.4,259.9 L333.3,256.3 L338.2,252.8 L343.1,249.4 L348.0,246.0 L353.0,242.8 L357.9,239.6 L362.9,236.5 L367.9,233.5 L372.9,230.6 L377.9,227.8 L382.9,225.0 L387.9,222.4 L392.9,219.9 L397.9,217.4 L403.0,215.1 L408.0,212.8 L413.0,210.6 L418.0,208.6 L423.0,206.6 L428.0,204.7 L433.0,202.9 L438.0,201.2 L443.0,199.7 L448.0,198.2 L452.9,196.8 L457.8,195.5 L462.8,194.3 L467.7,193.2 L472.6,192.2 L477.4,191.3 L482.3,190.6 L487.1,189.9 L491.9,189.3 L496.7,188.8 L501.4,188.4 L506.1,188.2 L510.8,188.0 L515.5,187.9 L520.1,187.9 L524.7,188.1 L529.3,188.3 L533.8,188.6 L538.3,189.1 L542.7,189.6 L547.1,190.3 L551.5,191.0 L555.8,191.8 L560.0,192.8 L564.3,193.8 L568.5,195.0 L572.6,196.2 L576.7,197.6 L580.7,199.0 L584.7,200.6" fill="none" stroke="url(#d1g)" stroke-width="1.9"/>
<path d="M176.7,425.9 L180.3,419.9 L183.9,414.0 L187.6,408.1 L191.4,402.2 L195.2,396.3 L199.1,390.6 L203.0,384.8 L207.1,379.1 L211.1,373.5 L215.3,367.9 L219.5,362.4 L223.7,356.9 L228.0,351.5 L232.4,346.2 L236.8,340.9 L241.2,335.6 L245.8,330.5 L250.3,325.4 L254.9,320.4 L259.6,315.4 L264.3,310.5 L269.0,305.7 L273.8,301.0 L278.6,296.3 L283.5,291.7 L288.4,287.2 L293.3,282.8 L298.3,278.4 L303.3,274.2 L308.3,270.0 L313.4,265.9 L318.5,261.9 L323.6,258.0 L328.7,254.2 L333.9,250.4 L339.1,246.8 L344.3,243.2 L349.5,239.8 L354.7,236.4 L360.0,233.1 L365.2,229.9 L370.5,226.9 L375.8,223.9 L381.1,221.0 L386.4,218.2 L391.7,215.6 L397.0,213.0 L402.3,210.5 L407.6,208.2 L412.9,205.9 L418.2,203.7 L423.5,201.7 L428.8,199.7 L434.1,197.9 L439.4,196.2 L444.7,194.6 L449.9,193.0 L455.1,191.6 L460.4,190.4 L465.6,189.2 L470.7,188.1 L475.9,187.1 L481.0,186.3 L486.2,185.6 L491.2,184.9 L496.3,184.4 L501.3,184.0 L506.3,183.7 L511.3,183.5 L516.2,183.5 L521.1,183.5 L526.0,183.7 L530.8,184.0 L535.6,184.3 L540.3,184.8 L545.0,185.4 L549.7,186.2 L554.3,187.0 L558.8,187.9 L563.3,189.0 L567.8,190.1 L572.2,191.4 L576.6,192.8 L580.9,194.3 L585.1,195.9 L589.3,197.6 L593.4,199.4 L597.5,201.4 L601.5,203.4" fill="none" stroke="#7a7a7a" stroke-width="1.2"/>
<path d="M202.7,438.8 L206.2,433.0 L209.7,427.1 L213.4,421.3 L217.0,415.6 L220.8,409.9 L224.6,404.2 L228.5,398.6 L232.4,393.0 L236.4,387.5 L240.4,382.0 L244.5,376.6 L248.7,371.2 L252.9,365.9 L257.1,360.6 L261.4,355.4 L265.7,350.3 L270.1,345.2 L274.6,340.2 L279.0,335.2 L283.5,330.3 L288.1,325.5 L292.7,320.8 L297.3,316.1 L302.0,311.5 L306.7,306.9 L311.4,302.5 L316.2,298.1 L321.0,293.8 L325.8,289.5 L330.7,285.4 L335.6,281.3 L340.5,277.3 L345.4,273.4 L350.4,269.6 L355.4,265.8 L360.3,262.2 L365.4,258.6 L370.4,255.1 L375.4,251.7 L380.5,248.5 L385.5,245.2 L390.6,242.1 L395.7,239.1 L400.8,236.2 L405.9,233.4 L411.0,230.6 L416.1,228.0 L421.2,225.5 L426.3,223.0 L431.4,220.7 L436.5,218.4 L441.6,216.3 L446.7,214.3 L451.7,212.3 L456.8,210.5 L461.8,208.8 L466.9,207.1 L471.9,205.6 L476.9,204.2 L481.9,202.9 L486.9,201.7 L491.8,200.6 L496.7,199.6 L501.6,198.7 L506.5,197.9 L511.4,197.2 L516.2,196.7 L521.0,196.2 L525.8,195.9 L530.5,195.6 L535.2,195.5 L539.8,195.5 L544.5,195.5 L549.1,195.7 L553.6,196.0 L558.1,196.4 L562.6,196.9 L567.0,197.5 L571.4,198.3 L575.7,199.1 L580.0,200.0 L584.2,201.1 L588.4,202.2 L592.5,203.5 L596.6,204.8 L600.6,206.3 L604.6,207.9 L608.5,209.6 L612.4,211.3" fill="none" stroke="#d0d0d0" stroke-width="1"/>
<path d="M174.3,424.2 L179.7,415.1 L185.3,406.1 L191.0,397.2 L196.9,388.4 L203.0,379.7 L209.1,371.2 L215.4,362.7 L221.9,354.4 L228.5,346.2 L235.2,338.2 L242.0,330.3 L248.9,322.5 L255.9,314.9 L263.1,307.5 L270.3,300.2 L277.6,293.2 L285.0,286.2 L292.5,279.5 L300.1,273.0 L307.8,266.6 L315.5,260.5 L323.3,254.5 L331.1,248.8 L339.0,243.3 L346.9,237.9 L354.9,232.8 L362.9,227.9 L370.9,223.3 L378.9,218.8 L387.0,214.6 L395.1,210.7 L403.2,206.9 L411.2,203.4 L419.3,200.2 L427.4,197.1 L435.4,194.4 L443.4,191.9 L451.4,189.6 L459.4,187.6 L467.3,185.8 L475.2,184.3 L483.0,183.0 L490.8,182.0 L498.5,181.3 L506.1,180.8 L513.7,180.5 L521.1,180.6 L528.5,180.8 L535.8,181.4 L543.0,182.2 L550.2,183.2 L557.2,184.5 L564.1,186.1 L570.8,187.9 L577.5,190.0 L584.1,192.3 L590.5,194.8 L596.7,197.7 L602.9,200.7 L608.9,204.0 L614.7,207.6 L620.4,211.3 L626.0,215.3 L631.4,219.6 L636.6,224.1 L641.7,228.8 L646.6,233.7 L651.3,238.8 L655.8,244.2 L660.2,249.8 L664.4,255.6 L668.4,261.5 L672.2,267.7 L675.8,274.1 L679.3,280.7 L682.5,287.4 L685.5,294.4 L688.4,301.5 L691.0,308.8 L693.4,316.2 L695.6,323.9 L697.6,331.6 L699.4,339.6 L701.0,347.6 L702.4,355.8 L703.6,364.2 L704.6,372.6 L705.3,381.2 L705.8,389.9 L706.2,398.8 L706.3,407.7 L706.1,416.7 L705.8,425.8 L705.3,435.0 L704.5,444.3 L703.5,453.6 L702.4,463.0 L701.0,472.5 L699.4,482.0 L697.5,491.5 L695.5,501.1 L693.3,510.7 L690.9,520.4 L688.2,530.0 L685.4,539.7 L682.3,549.4 L679.1,559.1 L675.6,568.7 L672.0,578.4 L668.2,588.0 L664.2,597.6 L660.0,607.2 L655.6,616.7 L651.1,626.1 L646.3,635.5 L641.4,644.9 L636.4,654.1 L631.1,663.3 L625.7,672.4" fill="none" stroke="#606060" stroke-width="1.4"/>
<path d="M213.2,446.8 L218.4,438.6 L223.7,430.5 L229.1,422.5 L234.6,414.6 L240.2,406.8 L246.0,399.1 L251.8,391.5 L257.7,384.1 L263.7,376.7 L269.8,369.5 L275.9,362.4 L282.2,355.4 L288.5,348.6 L294.8,341.9 L301.3,335.3 L307.8,328.9 L314.3,322.7 L320.9,316.6 L327.5,310.7 L334.2,304.9 L341.0,299.4 L347.7,293.9 L354.5,288.7 L361.3,283.7 L368.1,278.8 L375.0,274.1 L381.8,269.6 L388.7,265.3 L395.5,261.2 L402.4,257.3 L409.2,253.6 L416.1,250.1 L422.9,246.9 L429.7,243.8 L436.4,240.9 L443.2,238.3 L449.9,235.8 L456.6,233.6 L463.2,231.6 L469.8,229.8 L476.3,228.2 L482.8,226.9 L489.2,225.7 L495.5,224.8 L501.8,224.1 L508.0,223.7 L514.2,223.4 L520.2,223.4 L526.2,223.6 L532.0,224.1 L537.8,224.7 L543.5,225.6 L549.1,226.7 L554.6,228.0 L560.0,229.6 L565.2,231.3 L570.4,233.3 L575.4,235.5 L580.4,237.9 L585.2,240.6 L589.8,243.4 L594.4,246.4 L598.8,249.7 L603.0,253.2 L607.2,256.8 L611.2,260.7 L615.0,264.8 L618.7,269.1 L622.2,273.5 L625.6,278.2 L628.9,283.0 L632.0,288.0 L634.9,293.2 L637.7,298.6 L640.3,304.2 L642.8,309.9 L645.0,315.8 L647.2,321.9 L649.1,328.1 L650.9,334.5 L652.5,341.0 L653.9,347.7 L655.2,354.5 L656.3,361.5 L657.2,368.5 L658.0,375.8 L658.6,383.1 L659.0,390.6 L659.2,398.1 L659.3,405.8 L659.1,413.6 L658.8,421.5 L658.4,429.5 L657.7,437.6 L656.9,445.7 L655.9,453.9 L654.7,462.3 L653.4,470.6 L651.9,479.1 L650.2,487.6 L648.3,496.1 L646.3,504.7 L644.1,513.3 L641.8,522.0 L639.3,530.7 L636.6,539.4 L633.7,548.1 L630.7,556.9 L627.6,565.6 L624.3,574.4 L620.8,583.1 L617.2,591.9 L613.4,600.6 L609.5,609.3 L605.5,618.0 L601.3,626.6 L597.0,635.2 L592.5,643.7 L587.9,652.2" fill="none" stroke="#1e1e1e" stroke-width="2.4"/>
<line x1="172" y1="423" x2="212" y2="446" stroke="#777" stroke-width="1"/>
<circle cx="643" cy="308" r="1.7" fill="#d8d8d8" stroke="#7a7a7a" stroke-width="0.7"/>
<circle cx="661" cy="373" r="1.7" fill="#d8d8d8" stroke="#7a7a7a" stroke-width="0.7"/>
<circle cx="661" cy="451" r="1.7" fill="#d8d8d8" stroke="#7a7a7a" stroke-width="0.7"/>
<circle cx="643" cy="537.5" r="1.7" fill="#d8d8d8" stroke="#7a7a7a" stroke-width="0.7"/>
<circle cx="607" cy="626" r="1.7" fill="#d8d8d8" stroke="#7a7a7a" stroke-width="0.7"/>
<path d="M501.5,172 L499,196 M580,182 L569,196" stroke="#b8b8b8" stroke-width="2.2"/>
<path d="M501.5,172 L499,196 M580,182 L569,196" stroke="#e0e0e0" stroke-width="0.8"/>
<line x1="586.7" y1="651.7" x2="626.7" y2="673" stroke="#888" stroke-width="1"/>
<line x1="359.5" y1="225" x2="359.5" y2="292" stroke="#f8f8f8" stroke-width="7"/>
<polyline points="635,85.4 359.5,85.4 359.5,405.3 414.7,405.3" fill="none" stroke="#484848" stroke-width="1.6" />
<line x1="359.5" y1="144" x2="500" y2="144" stroke="#484848" stroke-width="1.6"/>
<line x1="332" y1="221" x2="359.5" y2="221" stroke="#484848" stroke-width="1.6"/>
<line x1="359.5" y1="299.5" x2="477.3" y2="299.5" stroke="#484848" stroke-width="1.6"/>
<line x1="190" y1="350" x2="211" y2="363" stroke="#484848" stroke-width="1.6"/>
<polyline points="74.5,516 31.7,541.3 1083.3,1127.5 1118,1101.7" fill="none" stroke="#484848" stroke-width="1.6" />
<line x1="75" y1="565" x2="115.5" y2="540.5" stroke="#484848" stroke-width="1.6"/>
<line x1="165" y1="614" x2="203.3" y2="591.7" stroke="#484848" stroke-width="1.6"/>
<line x1="368.1" y1="728.8" x2="408.3" y2="706.7" stroke="#484848" stroke-width="1.6"/>
<line x1="526.6" y1="815.8" x2="605.4" y2="770" stroke="#484848" stroke-width="1.6"/>
<line x1="591.7" y1="852.5" x2="556.8" y2="873.6" stroke="#484848" stroke-width="1.6"/>
<line x1="85" y1="511" x2="111" y2="497" stroke="#484848" stroke-width="1.6"/>
<line x1="126" y1="535" x2="152" y2="522.5" stroke="#484848" stroke-width="1.6"/>
<line x1="214" y1="585" x2="236.7" y2="573" stroke="#484848" stroke-width="1.6"/>
<line x1="214" y1="492.5" x2="214" y2="505.8" stroke="#484848" stroke-width="1.6"/>
<line x1="420" y1="700" x2="441.7" y2="687.5" stroke="#484848" stroke-width="1.6"/>
<line x1="525" y1="661" x2="514" y2="666" stroke="#484848" stroke-width="1.6"/>
<line x1="763.3" y1="771.7" x2="739.2" y2="784.7" stroke="#484848" stroke-width="1.6"/>
<line x1="809.2" y1="799.2" x2="790.8" y2="809.2" stroke="#484848" stroke-width="1.6"/>
<polyline points="831.7,837.5 904.4,796.7 1060.6,884.2 1023,905" fill="none" stroke="#484848" stroke-width="1.6" />
<line x1="999" y1="824.8" x2="910.6" y2="885.2" stroke="#484848" stroke-width="1.6"/>
<line x1="1011.7" y1="911" x2="991.9" y2="923.8" stroke="#484848" stroke-width="1.6"/>
<line x1="1059" y1="939" x2="1043" y2="947" stroke="#484848" stroke-width="1.6"/>
<line x1="1108" y1="964" x2="1091" y2="973.6" stroke="#484848" stroke-width="1.6"/>
<line x1="1159" y1="993" x2="1134" y2="1007" stroke="#484848" stroke-width="1.6"/>
<line x1="1129" y1="1095" x2="1153" y2="1079" stroke="#484848" stroke-width="1.6"/>
<line x1="136.7" y1="491" x2="1141.7" y2="1049.8" stroke="#8c8c8c" stroke-width="1.3"/>
<ellipse cx="116" cy="474" rx="9.9" ry="15" fill="#b2b2b2" stroke="#3a3a3a" stroke-width="1.4" transform="rotate(29.1 116 474)" />
<polygon points="108.7,487.1 123.7,496.1 138.3,469.9 123.3,460.9" fill="#b2b2b2" stroke="none"/>
<line x1="108.7" y1="487.1" x2="123.7" y2="496.1" stroke="#3a3a3a" stroke-width="1.4"/>
<line x1="123.3" y1="460.9" x2="138.3" y2="469.9" stroke="#3a3a3a" stroke-width="1.4"/>
<ellipse cx="131" cy="483" rx="9.9" ry="15" fill="#bcbcbc" stroke="#3a3a3a" stroke-width="1.4" transform="rotate(29.1 131 483)" />
<ellipse cx="132" cy="483.5" rx="8.5" ry="11.5" fill="#a6a6a6" stroke="#666" stroke-width="1" transform="rotate(29.1 132 483.5)" />
<ellipse cx="157" cy="497" rx="10.6" ry="16" fill="#b4b4b4" stroke="#3a3a3a" stroke-width="1.4" transform="rotate(29.1 157 497)" />
<polygon points="149.2,511 163.2,519 178.8,491 164.8,483" fill="#b4b4b4" stroke="none"/>
<line x1="149.2" y1="511" x2="163.2" y2="519" stroke="#3a3a3a" stroke-width="1.4"/>
<line x1="164.8" y1="483" x2="178.8" y2="491" stroke="#3a3a3a" stroke-width="1.4"/>
<ellipse cx="171" cy="505" rx="10.6" ry="16" fill="#bebebe" stroke="#3a3a3a" stroke-width="1.4" transform="rotate(29.1 171 505)" />
<ellipse cx="172" cy="505.5" rx="9" ry="12" fill="#b0b0b0" stroke="#666" stroke-width="1" transform="rotate(29.1 172 505.5)" />
<path d="M195.6,528.9 a15.3,23.5 0 1,0 30.6,0 a15.3,23.5 0 1,0 -30.6,0 Z M201.3,528.9 a9.6,16.5 0 1,0 19.1,0 a9.6,16.5 0 1,0 -19.1,0 Z" fill="#9a9a9a" fill-rule="evenodd" stroke="#666" stroke-width="1.2" transform="rotate(29.1 210.9 528.9)"/>
<path d="M196.9,529.6 a15.3,23.5 0 1,0 30.6,0 a15.3,23.5 0 1,0 -30.6,0 Z M202.6,529.6 a9.6,16.5 0 1,0 19.1,0 a9.6,16.5 0 1,0 -19.1,0 Z" fill="#b4b4b4" fill-rule="evenodd" stroke="#666" stroke-width="1.2" transform="rotate(29.1 212.2 529.6)"/>
<path d="M237.2,552 a14.3,21 0 1,0 28.6,0 a14.3,21 0 1,0 -28.6,0 Z M240.9,552 a10.5,15.5 0 1,0 21.1,0 a10.5,15.5 0 1,0 -21.1,0 Z" fill="#b0b0b0" fill-rule="evenodd" stroke="#404040" stroke-width="1.1" transform="rotate(29.1 251.5 552)"/>
<path d="M238.5,552.7 a14.3,21 0 1,0 28.6,0 a14.3,21 0 1,0 -28.6,0 Z M242.3,552.7 a10.5,15.5 0 1,0 21.1,0 a10.5,15.5 0 1,0 -21.1,0 Z" fill="#b0b0b0" fill-rule="evenodd" stroke="#404040" stroke-width="1.1" transform="rotate(29.1 252.8 552.7)"/>
<circle cx="263.6" cy="558.7" r="2" fill="#d0d0d0" stroke="#555" stroke-width="0.7"/>
<circle cx="259.1" cy="564.7" r="2" fill="#d0d0d0" stroke="#555" stroke-width="0.7"/>
<circle cx="253.5" cy="568.5" r="2" fill="#d0d0d0" stroke="#555" stroke-width="0.7"/>
<circle cx="247.7" cy="569.7" r="2" fill="#d0d0d0" stroke="#555" stroke-width="0.7"/>
<circle cx="242.9" cy="567.9" r="2" fill="#d0d0d0" stroke="#555" stroke-width="0.7"/>
<circle cx="239.7" cy="563.5" r="2" fill="#d0d0d0" stroke="#555" stroke-width="0.7"/>
<circle cx="238.9" cy="557.2" r="2" fill="#d0d0d0" stroke="#555" stroke-width="0.7"/>
<circle cx="240.4" cy="550.1" r="2" fill="#d0d0d0" stroke="#555" stroke-width="0.7"/>
<circle cx="244.1" cy="543.5" r="2" fill="#d0d0d0" stroke="#555" stroke-width="0.7"/>
<circle cx="249.2" cy="538.5" r="2" fill="#d0d0d0" stroke="#555" stroke-width="0.7"/>
<circle cx="255" cy="535.9" r="2" fill="#d0d0d0" stroke="#555" stroke-width="0.7"/>
<circle cx="260.5" cy="536.3" r="2" fill="#d0d0d0" stroke="#555" stroke-width="0.7"/>
<circle cx="264.6" cy="539.4" r="2" fill="#d0d0d0" stroke="#555" stroke-width="0.7"/>
<circle cx="266.6" cy="544.9" r="2" fill="#d0d0d0" stroke="#555" stroke-width="0.7"/>
<circle cx="266.3" cy="551.7" r="2" fill="#d0d0d0" stroke="#555" stroke-width="0.7"/>
<ellipse cx="309" cy="582" rx="20.5" ry="31" fill="#b2b2b2" stroke="#3a3a3a" stroke-width="1.4" transform="rotate(29.1 309 582)" />
<polygon points="293.9,609.1 314.9,619.1 345.1,564.9 324.1,554.9" fill="#b2b2b2" stroke="none"/>
<line x1="293.9" y1="609.1" x2="314.9" y2="619.1" stroke="#3a3a3a" stroke-width="1.4"/>
<line x1="324.1" y1="554.9" x2="345.1" y2="564.9" stroke="#3a3a3a" stroke-width="1.4"/>
<ellipse cx="330" cy="592" rx="20.5" ry="31" fill="#b2b2b2" stroke="#3a3a3a" stroke-width="1.4" transform="rotate(29.1 330 592)" />
<ellipse cx="335" cy="594" rx="36" ry="54" fill="#c2c2c2" stroke="#555" stroke-width="1.4" transform="rotate(29.1 335 594)" />
<ellipse cx="337" cy="595.5" rx="29" ry="44" fill="none" stroke="#9a9a9a" stroke-width="1" transform="rotate(29.1 337 595.5)" />
<defs><radialGradient id="hg" cx="0.45" cy="0.45" r="0.6"><stop offset="0" stop-color="#d2d2d2"/><stop offset="1" stop-color="#bababa"/></radialGradient></defs>
<ellipse cx="338" cy="596" rx="24" ry="40" fill="url(#hg)" stroke="none" stroke-width="0" transform="rotate(29.1 338 596)" />
<polygon points="328.3,618 374.3,643 397.7,601 351.7,576" fill="#bdbdbd"/>
<path d="M352,576 L372,587.5" stroke="#262626" stroke-width="3.8" stroke-linecap="round"/>
<path d="M329,615.5 L349,626.5" stroke="#262626" stroke-width="3.8" stroke-linecap="round"/>
<ellipse cx="389" cy="623.3" rx="35.5" ry="53" fill="#c2c2c2" stroke="#505050" stroke-width="1.4" transform="rotate(29.1 389 623.3)" />
<ellipse cx="393" cy="625.5" rx="26" ry="41" fill="#bcbcbc" stroke="#8a8a8a" stroke-width="1" transform="rotate(29.1 393 625.5)" />
<line x1="413.5" y1="603.4" x2="419.5" y2="606.4" stroke="#5a5a5a" stroke-width="2"/>
<line x1="414.6" y1="609.2" x2="420.6" y2="612.2" stroke="#5a5a5a" stroke-width="2"/>
<line x1="414.5" y1="615.8" x2="420.5" y2="618.8" stroke="#5a5a5a" stroke-width="2"/>
<line x1="413.1" y1="622.9" x2="419.1" y2="625.9" stroke="#5a5a5a" stroke-width="2"/>
<line x1="410.5" y1="630" x2="416.5" y2="633" stroke="#5a5a5a" stroke-width="2"/>
<line x1="406.8" y1="636.8" x2="412.8" y2="639.8" stroke="#5a5a5a" stroke-width="2"/>
<line x1="402.4" y1="642.9" x2="408.4" y2="645.9" stroke="#5a5a5a" stroke-width="2"/>
<line x1="397.2" y1="648.1" x2="403.2" y2="651.1" stroke="#5a5a5a" stroke-width="2"/>
<line x1="391.7" y1="652" x2="397.7" y2="655" stroke="#5a5a5a" stroke-width="2"/>
<path d="M399,587 Q414,588 421,598" fill="none" stroke="#202020" stroke-width="3.2"/>
<path d="M363,650 Q368,662 382,664" fill="none" stroke="#202020" stroke-width="3.2"/>
<ellipse cx="387" cy="621" rx="15" ry="29" fill="#c4c4c4" stroke="#7a7a7a" stroke-width="1.1" transform="rotate(29.1 387 621)" />
<ellipse cx="385.5" cy="620" rx="9" ry="20" fill="#bababa" stroke="#8a8a8a" stroke-width="1" transform="rotate(29.1 385.5 620)" />
<circle cx="358.9" cy="618.6" r="1.4" fill="#e6e6e6" stroke="#8a8a8a" stroke-width="0.5"/>
<circle cx="345.7" cy="632.1" r="1.4" fill="#e6e6e6" stroke="#8a8a8a" stroke-width="0.5"/>
<circle cx="330.9" cy="639.7" r="1.4" fill="#e6e6e6" stroke="#8a8a8a" stroke-width="0.5"/>
<circle cx="316.6" cy="640.5" r="1.4" fill="#e6e6e6" stroke="#8a8a8a" stroke-width="0.5"/>
<circle cx="305.2" cy="634.1" r="1.4" fill="#e6e6e6" stroke="#8a8a8a" stroke-width="0.5"/>
<circle cx="298.3" cy="621.7" r="1.4" fill="#e6e6e6" stroke="#8a8a8a" stroke-width="0.5"/>
<circle cx="297" cy="605" r="1.4" fill="#e6e6e6" stroke="#8a8a8a" stroke-width="0.5"/>
<circle cx="301.5" cy="586.6" r="1.4" fill="#e6e6e6" stroke="#8a8a8a" stroke-width="0.5"/>
<circle cx="311.1" cy="569.4" r="1.4" fill="#e6e6e6" stroke="#8a8a8a" stroke-width="0.5"/>
<circle cx="324.3" cy="555.9" r="1.4" fill="#e6e6e6" stroke="#8a8a8a" stroke-width="0.5"/>
<circle cx="339.1" cy="548.3" r="1.4" fill="#e6e6e6" stroke="#8a8a8a" stroke-width="0.5"/>
<circle cx="353.4" cy="547.5" r="1.4" fill="#e6e6e6" stroke="#8a8a8a" stroke-width="0.5"/>
<circle cx="364.8" cy="553.9" r="1.4" fill="#e6e6e6" stroke="#8a8a8a" stroke-width="0.5"/>
<circle cx="371.7" cy="566.3" r="1.4" fill="#e6e6e6" stroke="#8a8a8a" stroke-width="0.5"/>
<circle cx="373" cy="583" r="1.4" fill="#e6e6e6" stroke="#8a8a8a" stroke-width="0.5"/>
<circle cx="368.5" cy="601.4" r="1.4" fill="#e6e6e6" stroke="#8a8a8a" stroke-width="0.5"/>
<circle cx="412.2" cy="647.2" r="1.4" fill="#e6e6e6" stroke="#8a8a8a" stroke-width="0.5"/>
<circle cx="399.3" cy="660.5" r="1.4" fill="#e6e6e6" stroke="#8a8a8a" stroke-width="0.5"/>
<circle cx="384.8" cy="668" r="1.4" fill="#e6e6e6" stroke="#8a8a8a" stroke-width="0.5"/>
<circle cx="371" cy="668.8" r="1.4" fill="#e6e6e6" stroke="#8a8a8a" stroke-width="0.5"/>
<circle cx="359.9" cy="662.7" r="1.4" fill="#e6e6e6" stroke="#8a8a8a" stroke-width="0.5"/>
<circle cx="353.2" cy="650.5" r="1.4" fill="#e6e6e6" stroke="#8a8a8a" stroke-width="0.5"/>
<circle cx="352" cy="634.2" r="1.4" fill="#e6e6e6" stroke="#8a8a8a" stroke-width="0.5"/>
<circle cx="356.4" cy="616.3" r="1.4" fill="#e6e6e6" stroke="#8a8a8a" stroke-width="0.5"/>
<circle cx="365.8" cy="599.4" r="1.4" fill="#e6e6e6" stroke="#8a8a8a" stroke-width="0.5"/>
<circle cx="378.7" cy="586.1" r="1.4" fill="#e6e6e6" stroke="#8a8a8a" stroke-width="0.5"/>
<circle cx="393.2" cy="578.6" r="1.4" fill="#e6e6e6" stroke="#8a8a8a" stroke-width="0.5"/>
<circle cx="407" cy="577.8" r="1.4" fill="#e6e6e6" stroke="#8a8a8a" stroke-width="0.5"/>
<circle cx="418.1" cy="583.9" r="1.4" fill="#e6e6e6" stroke="#8a8a8a" stroke-width="0.5"/>
<circle cx="424.8" cy="596.1" r="1.4" fill="#e6e6e6" stroke="#8a8a8a" stroke-width="0.5"/>
<circle cx="426" cy="612.4" r="1.4" fill="#e6e6e6" stroke="#8a8a8a" stroke-width="0.5"/>
<circle cx="421.6" cy="630.3" r="1.4" fill="#e6e6e6" stroke="#8a8a8a" stroke-width="0.5"/>
<path d="M441.6,665.6 a15.4,22 0 1,0 30.8,0 a15.4,22 0 1,0 -30.8,0 Z M445.8,665.6 a11.2,16 0 1,0 22.4,0 a11.2,16 0 1,0 -22.4,0 Z" fill="#b0b0b0" fill-rule="evenodd" stroke="#404040" stroke-width="1.1" transform="rotate(29.1 457 665.6)"/>
<path d="M443.4,666.6 a15.4,22 0 1,0 30.8,0 a15.4,22 0 1,0 -30.8,0 Z M447.6,666.6 a11.2,16 0 1,0 22.4,0 a11.2,16 0 1,0 -22.4,0 Z" fill="#b0b0b0" fill-rule="evenodd" stroke="#404040" stroke-width="1.1" transform="rotate(29.1 458.8 666.6)"/>
<circle cx="470.4" cy="673.1" r="2.2" fill="#d0d0d0" stroke="#555" stroke-width="0.7"/>
<circle cx="464.8" cy="680" r="2.2" fill="#d0d0d0" stroke="#555" stroke-width="0.7"/>
<circle cx="457.8" cy="683.9" r="2.2" fill="#d0d0d0" stroke="#555" stroke-width="0.7"/>
<circle cx="451" cy="683.9" r="2.2" fill="#d0d0d0" stroke="#555" stroke-width="0.7"/>
<circle cx="446" cy="679.8" r="2.2" fill="#d0d0d0" stroke="#555" stroke-width="0.7"/>
<circle cx="443.9" cy="672.8" r="2.2" fill="#d0d0d0" stroke="#555" stroke-width="0.7"/>
<circle cx="445.3" cy="664.3" r="2.2" fill="#d0d0d0" stroke="#555" stroke-width="0.7"/>
<circle cx="449.7" cy="656.4" r="2.2" fill="#d0d0d0" stroke="#555" stroke-width="0.7"/>
<circle cx="456.2" cy="650.8" r="2.2" fill="#d0d0d0" stroke="#555" stroke-width="0.7"/>
<circle cx="463.3" cy="648.8" r="2.2" fill="#d0d0d0" stroke="#555" stroke-width="0.7"/>
<circle cx="469.3" cy="650.9" r="2.2" fill="#d0d0d0" stroke="#555" stroke-width="0.7"/>
<circle cx="473" cy="656.6" r="2.2" fill="#d0d0d0" stroke="#555" stroke-width="0.7"/>
<circle cx="473.3" cy="664.6" r="2.2" fill="#d0d0d0" stroke="#555" stroke-width="0.7"/>
<path d="M477.5,685.2 a15.6,23.6 0 1,0 31.2,0 a15.6,23.6 0 1,0 -31.2,0 Z M481.3,685.2 a11.7,17.8 0 1,0 23.5,0 a11.7,17.8 0 1,0 -23.5,0 Z" fill="#a8a8a8" fill-rule="evenodd" stroke="#4a4a4a" stroke-width="1.1" transform="rotate(29.1 493.1 685.2)"/>
<path d="M479.2,686.1 a15.6,23.6 0 1,0 31.2,0 a15.6,23.6 0 1,0 -31.2,0 Z M483.1,686.1 a11.7,17.8 0 1,0 23.5,0 a11.7,17.8 0 1,0 -23.5,0 Z" fill="#a8a8a8" fill-rule="evenodd" stroke="#4a4a4a" stroke-width="1.1" transform="rotate(29.1 494.8 686.1)"/>
<defs><linearGradient id="axg" gradientUnits="userSpaceOnUse" x1="607.1" y1="763.8" x2="617.8" y2="744.6"><stop offset="0" stop-color="#a8a8a8"/><stop offset="0.45" stop-color="#c2c2c2"/><stop offset="1" stop-color="#9a9a9a"/></linearGradient></defs>
<ellipse cx="532" cy="709.5" rx="6" ry="9.5" fill="#b5b5b5" stroke="#2e2e2e" stroke-width="1.4" transform="rotate(29.1 532 709.5)" />
<polygon points="527.4,717.8 605.8,762 607.1,763.8 617.6,769.6 619.8,769.7 677.1,799.9 685.4,785 629.5,752.3 628.2,750.4 617.8,744.6 615.5,744.5 536.6,701.2" fill="url(#axg)" stroke="#2e2e2e" stroke-width="1.4" stroke-linejoin="round"/>
<ellipse cx="681.2" cy="792.5" rx="5" ry="8.5" fill="#b8b8b8" stroke="#2e2e2e" stroke-width="1.3" transform="rotate(29.1 681.2 792.5)" />
<line x1="546.5" y1="728.7" x2="555.9" y2="711.7" stroke="#8a8a8a" stroke-width="0.9"/>
<line x1="605.8" y1="762" x2="615.5" y2="744.5" stroke="#8a8a8a" stroke-width="0.9"/>
<line x1="619.8" y1="769.7" x2="629.5" y2="752.3" stroke="#8a8a8a" stroke-width="0.9"/>
<line x1="639.4" y1="779.7" x2="648.3" y2="763.7" stroke="#8a8a8a" stroke-width="0.9"/>
<ellipse cx="714.5" cy="810.6" rx="22.2" ry="32.5" fill="none" stroke="#777" stroke-width="1.2" transform="rotate(29.1 714.5 810.6)" />
<path d="M695.9,812.5 a22.1,32.5 0 1,0 44.2,0 a22.1,32.5 0 1,0 -44.2,0 Z M697.7,812.5 a20.3,29.8 0 1,0 40.5,0 a20.3,29.8 0 1,0 -40.5,0 Z" fill="#d2d2d2" fill-rule="evenodd" stroke="#6a6a6a" stroke-width="1" transform="rotate(29.1 718 812.5)"/>
<ellipse cx="767" cy="840.4" rx="24.3" ry="35" fill="none" stroke="#7a7a7a" stroke-width="3.6" transform="rotate(29.1 767 840.4)" />
<ellipse cx="767" cy="840.4" rx="24.3" ry="35" fill="none" stroke="#d0d0d0" stroke-width="1.2" transform="rotate(29.1 767 840.4)" />
<ellipse cx="813.8" cy="866" rx="21" ry="30" fill="none" stroke="#6a6a6a" stroke-width="2.4" transform="rotate(29.1 813.8 866)" />
<ellipse cx="813.8" cy="866" rx="21" ry="30" fill="none" stroke="#bdbdbd" stroke-width="0.7" transform="rotate(29.1 813.8 866)" />
<ellipse cx="855" cy="889" rx="26.5" ry="38.5" fill="#9a9a9a" stroke="#4a4a4a" stroke-width="1.2" transform="rotate(29.1 855 889)" />
<line x1="878.2" y1="901.9" x2="880.8" y2="903.3" stroke="#8a8a8a" stroke-width="3.2"/>
<line x1="874.6" y1="907.5" x2="876.8" y2="909.5" stroke="#8a8a8a" stroke-width="3.2"/>
<line x1="870.4" y1="912.6" x2="872.2" y2="915" stroke="#8a8a8a" stroke-width="3.2"/>
<line x1="865.7" y1="917" x2="867.1" y2="919.8" stroke="#8a8a8a" stroke-width="3.2"/>
<line x1="860.7" y1="920.5" x2="861.6" y2="923.6" stroke="#8a8a8a" stroke-width="3.2"/>
<line x1="855.6" y1="923.1" x2="855.9" y2="926.3" stroke="#8a8a8a" stroke-width="3.2"/>
<line x1="850.4" y1="924.6" x2="850.2" y2="928" stroke="#8a8a8a" stroke-width="3.2"/>
<line x1="845.3" y1="925" x2="844.6" y2="928.4" stroke="#8a8a8a" stroke-width="3.2"/>
<line x1="840.6" y1="924.4" x2="839.4" y2="927.6" stroke="#8a8a8a" stroke-width="3.2"/>
<line x1="836.3" y1="922.7" x2="834.6" y2="925.7" stroke="#8a8a8a" stroke-width="3.2"/>
<line x1="832.6" y1="919.9" x2="830.4" y2="922.7" stroke="#8a8a8a" stroke-width="3.2"/>
<line x1="829.5" y1="916.2" x2="827" y2="918.6" stroke="#8a8a8a" stroke-width="3.2"/>
<line x1="827.2" y1="911.7" x2="824.4" y2="913.6" stroke="#8a8a8a" stroke-width="3.2"/>
<line x1="825.8" y1="906.5" x2="822.8" y2="907.9" stroke="#8a8a8a" stroke-width="3.2"/>
<line x1="825.2" y1="900.8" x2="822.1" y2="901.6" stroke="#8a8a8a" stroke-width="3.2"/>
<line x1="825.6" y1="894.7" x2="822.5" y2="894.9" stroke="#8a8a8a" stroke-width="3.2"/>
<line x1="826.8" y1="888.4" x2="823.8" y2="888.1" stroke="#8a8a8a" stroke-width="3.2"/>
<line x1="828.9" y1="882.2" x2="826.1" y2="881.3" stroke="#8a8a8a" stroke-width="3.2"/>
<line x1="831.8" y1="876.1" x2="829.2" y2="874.7" stroke="#8a8a8a" stroke-width="3.2"/>
<line x1="835.4" y1="870.5" x2="833.2" y2="868.5" stroke="#8a8a8a" stroke-width="3.2"/>
<line x1="839.6" y1="865.4" x2="837.8" y2="863" stroke="#8a8a8a" stroke-width="3.2"/>
<line x1="844.3" y1="861" x2="842.9" y2="858.2" stroke="#8a8a8a" stroke-width="3.2"/>
<line x1="849.3" y1="857.5" x2="848.4" y2="854.4" stroke="#8a8a8a" stroke-width="3.2"/>
<line x1="854.4" y1="854.9" x2="854.1" y2="851.7" stroke="#8a8a8a" stroke-width="3.2"/>
<line x1="859.6" y1="853.4" x2="859.8" y2="850" stroke="#8a8a8a" stroke-width="3.2"/>
<line x1="864.7" y1="853" x2="865.4" y2="849.6" stroke="#8a8a8a" stroke-width="3.2"/>
<line x1="869.4" y1="853.6" x2="870.6" y2="850.4" stroke="#8a8a8a" stroke-width="3.2"/>
<line x1="873.7" y1="855.3" x2="875.4" y2="852.3" stroke="#8a8a8a" stroke-width="3.2"/>
<line x1="877.4" y1="858.1" x2="879.6" y2="855.3" stroke="#8a8a8a" stroke-width="3.2"/>
<line x1="880.5" y1="861.8" x2="883" y2="859.4" stroke="#8a8a8a" stroke-width="3.2"/>
<line x1="882.8" y1="866.3" x2="885.6" y2="864.4" stroke="#8a8a8a" stroke-width="3.2"/>
<line x1="884.2" y1="871.5" x2="887.2" y2="870.1" stroke="#8a8a8a" stroke-width="3.2"/>
<line x1="884.8" y1="877.2" x2="887.9" y2="876.4" stroke="#8a8a8a" stroke-width="3.2"/>
<line x1="884.4" y1="883.3" x2="887.5" y2="883.1" stroke="#8a8a8a" stroke-width="3.2"/>
<line x1="883.2" y1="889.6" x2="886.2" y2="889.9" stroke="#8a8a8a" stroke-width="3.2"/>
<line x1="881.1" y1="895.8" x2="883.9" y2="896.7" stroke="#8a8a8a" stroke-width="3.2"/>
<ellipse cx="861" cy="892.5" rx="26.5" ry="38.5" fill="#acacac" stroke="#5a5a5a" stroke-width="1.2" transform="rotate(29.1 861 892.5)" />
<line x1="882.9" y1="906.6" x2="885.3" y2="908.1" stroke="#9c9c9c" stroke-width="3"/>
<line x1="879.2" y1="912" x2="881.2" y2="914" stroke="#9c9c9c" stroke-width="3"/>
<line x1="874.9" y1="916.9" x2="876.6" y2="919.2" stroke="#9c9c9c" stroke-width="3"/>
<line x1="870.2" y1="921" x2="871.5" y2="923.6" stroke="#9c9c9c" stroke-width="3"/>
<line x1="865.3" y1="924.3" x2="866" y2="927.1" stroke="#9c9c9c" stroke-width="3"/>
<line x1="860.2" y1="926.5" x2="860.4" y2="929.6" stroke="#9c9c9c" stroke-width="3"/>
<line x1="855.1" y1="927.8" x2="854.9" y2="930.9" stroke="#9c9c9c" stroke-width="3"/>
<line x1="850.2" y1="928" x2="849.5" y2="931.1" stroke="#9c9c9c" stroke-width="3"/>
<line x1="845.7" y1="927.1" x2="844.4" y2="930" stroke="#9c9c9c" stroke-width="3"/>
<line x1="841.6" y1="925.1" x2="839.9" y2="927.9" stroke="#9c9c9c" stroke-width="3"/>
<line x1="838.1" y1="922.2" x2="836" y2="924.6" stroke="#9c9c9c" stroke-width="3"/>
<line x1="835.2" y1="918.4" x2="832.9" y2="920.4" stroke="#9c9c9c" stroke-width="3"/>
<line x1="833.2" y1="913.7" x2="830.6" y2="915.4" stroke="#9c9c9c" stroke-width="3"/>
<line x1="832" y1="908.5" x2="829.2" y2="909.6" stroke="#9c9c9c" stroke-width="3"/>
<line x1="831.7" y1="902.7" x2="828.8" y2="903.3" stroke="#9c9c9c" stroke-width="3"/>
<line x1="832.3" y1="896.6" x2="829.4" y2="896.7" stroke="#9c9c9c" stroke-width="3"/>
<line x1="833.8" y1="890.4" x2="831" y2="890" stroke="#9c9c9c" stroke-width="3"/>
<line x1="836.1" y1="884.3" x2="833.4" y2="883.3" stroke="#9c9c9c" stroke-width="3"/>
<line x1="839.1" y1="878.4" x2="836.7" y2="876.9" stroke="#9c9c9c" stroke-width="3"/>
<line x1="842.8" y1="873" x2="840.8" y2="871" stroke="#9c9c9c" stroke-width="3"/>
<line x1="847.1" y1="868.1" x2="845.4" y2="865.8" stroke="#9c9c9c" stroke-width="3"/>
<line x1="851.8" y1="864" x2="850.5" y2="861.4" stroke="#9c9c9c" stroke-width="3"/>
<line x1="856.7" y1="860.7" x2="856" y2="857.9" stroke="#9c9c9c" stroke-width="3"/>
<line x1="861.8" y1="858.5" x2="861.6" y2="855.4" stroke="#9c9c9c" stroke-width="3"/>
<line x1="866.9" y1="857.2" x2="867.1" y2="854.1" stroke="#9c9c9c" stroke-width="3"/>
<line x1="871.8" y1="857" x2="872.5" y2="853.9" stroke="#9c9c9c" stroke-width="3"/>
<line x1="876.3" y1="857.9" x2="877.6" y2="855" stroke="#9c9c9c" stroke-width="3"/>
<line x1="880.4" y1="859.9" x2="882.1" y2="857.1" stroke="#9c9c9c" stroke-width="3"/>
<line x1="883.9" y1="862.8" x2="886" y2="860.4" stroke="#9c9c9c" stroke-width="3"/>
<line x1="886.8" y1="866.6" x2="889.1" y2="864.6" stroke="#9c9c9c" stroke-width="3"/>
<line x1="888.8" y1="871.3" x2="891.4" y2="869.6" stroke="#9c9c9c" stroke-width="3"/>
<line x1="890" y1="876.5" x2="892.8" y2="875.4" stroke="#9c9c9c" stroke-width="3"/>
<line x1="890.3" y1="882.3" x2="893.2" y2="881.7" stroke="#9c9c9c" stroke-width="3"/>
<line x1="889.7" y1="888.4" x2="892.6" y2="888.3" stroke="#9c9c9c" stroke-width="3"/>
<line x1="888.2" y1="894.6" x2="891" y2="895" stroke="#9c9c9c" stroke-width="3"/>
<line x1="885.9" y1="900.7" x2="888.6" y2="901.7" stroke="#9c9c9c" stroke-width="3"/>
<ellipse cx="864" cy="894" rx="22" ry="33" fill="#b4b4b4" stroke="#7a7a7a" stroke-width="1" transform="rotate(29.1 864 894)" />
<ellipse cx="872" cy="898" rx="15" ry="25" fill="#b8b8b8" stroke="#4a4a4a" stroke-width="1.2" transform="rotate(29.1 872 898)" />
<polygon points="859.9,919.9 902.9,943.3 927.1,899.5 884.1,876.1" fill="#b8b8b8" stroke="none"/>
<line x1="859.9" y1="919.9" x2="902.9" y2="943.3" stroke="#4a4a4a" stroke-width="1.2"/>
<line x1="884.1" y1="876.1" x2="927.1" y2="899.5" stroke="#4a4a4a" stroke-width="1.2"/>
<ellipse cx="915" cy="921.4" rx="15" ry="25" fill="#d2d2d2" stroke="#4a4a4a" stroke-width="1.2" transform="rotate(29.1 915 921.4)" />
<line x1="885.2" y1="882.9" x2="916.5" y2="900" stroke="#8e8e8e" stroke-width="1.3"/>
<line x1="884.3" y1="884.5" x2="915.6" y2="901.5" stroke="#d0d0d0" stroke-width="0.8"/>
<line x1="882.1" y1="888.6" x2="913.3" y2="905.6" stroke="#8e8e8e" stroke-width="1.3"/>
<line x1="881.2" y1="890.2" x2="912.4" y2="907.2" stroke="#d0d0d0" stroke-width="0.8"/>
<line x1="878.9" y1="894.3" x2="910.2" y2="911.3" stroke="#8e8e8e" stroke-width="1.3"/>
<line x1="878" y1="895.9" x2="909.3" y2="912.9" stroke="#d0d0d0" stroke-width="0.8"/>
<line x1="875.7" y1="900" x2="907" y2="917" stroke="#8e8e8e" stroke-width="1.3"/>
<line x1="874.9" y1="901.5" x2="906.1" y2="918.6" stroke="#d0d0d0" stroke-width="0.8"/>
<line x1="872.6" y1="905.7" x2="903.8" y2="922.7" stroke="#8e8e8e" stroke-width="1.3"/>
<line x1="871.7" y1="907.2" x2="903" y2="924.3" stroke="#d0d0d0" stroke-width="0.8"/>
<line x1="869.4" y1="911.3" x2="900.7" y2="928.4" stroke="#8e8e8e" stroke-width="1.3"/>
<line x1="868.6" y1="912.9" x2="899.8" y2="929.9" stroke="#d0d0d0" stroke-width="0.8"/>
<line x1="866.3" y1="917" x2="897.5" y2="934" stroke="#8e8e8e" stroke-width="1.3"/>
<line x1="865.4" y1="918.6" x2="896.7" y2="935.6" stroke="#d0d0d0" stroke-width="0.8"/>
<ellipse cx="915" cy="921.4" rx="15" ry="25" fill="#d0d0d0" stroke="#3a3a3a" stroke-width="1.3" transform="rotate(29.1 915 921.4)" />
<ellipse cx="916.5" cy="922.3" rx="11" ry="20" fill="#b2b2b2" stroke="#7a7a7a" stroke-width="1" transform="rotate(29.1 916.5 922.3)" />
<path d="M922.6,904 A11,20 29.1 0,1 929.9,916.8" fill="none" stroke="#2a2a2a" stroke-width="2.6" transform=""/>
<path d="M908.6,940.4 A11,20 29.1 0,1 902.8,930.2" fill="none" stroke="#2a2a2a" stroke-width="2.2"/>
<ellipse cx="960.6" cy="948.2" rx="24" ry="35" fill="none" stroke="#6a6a6a" stroke-width="2.2" transform="rotate(29.1 960.6 948.2)" />
<line x1="981.6" y1="959.9" x2="984.6" y2="961.6" stroke="#777" stroke-width="1.3"/>
<line x1="977.9" y1="965.6" x2="980.4" y2="968" stroke="#777" stroke-width="1.3"/>
<line x1="973.5" y1="970.7" x2="975.5" y2="973.8" stroke="#777" stroke-width="1.3"/>
<line x1="968.6" y1="974.9" x2="969.9" y2="978.5" stroke="#777" stroke-width="1.3"/>
<line x1="963.4" y1="978.1" x2="964" y2="982.1" stroke="#777" stroke-width="1.3"/>
<line x1="958.1" y1="980.1" x2="958" y2="984.3" stroke="#777" stroke-width="1.3"/>
<line x1="952.9" y1="980.9" x2="952.1" y2="985.2" stroke="#777" stroke-width="1.3"/>
<line x1="948" y1="980.5" x2="946.5" y2="984.7" stroke="#777" stroke-width="1.3"/>
<line x1="943.6" y1="978.8" x2="941.4" y2="982.7" stroke="#777" stroke-width="1.3"/>
<line x1="939.8" y1="975.9" x2="937.1" y2="979.5" stroke="#777" stroke-width="1.3"/>
<line x1="936.9" y1="972" x2="933.7" y2="975" stroke="#777" stroke-width="1.3"/>
<line x1="934.8" y1="967.2" x2="931.3" y2="969.5" stroke="#777" stroke-width="1.3"/>
<line x1="933.7" y1="961.6" x2="930" y2="963.2" stroke="#777" stroke-width="1.3"/>
<line x1="933.7" y1="955.5" x2="930" y2="956.3" stroke="#777" stroke-width="1.3"/>
<line x1="934.7" y1="949.1" x2="931" y2="949.1" stroke="#777" stroke-width="1.3"/>
<line x1="936.7" y1="942.7" x2="933.3" y2="941.8" stroke="#777" stroke-width="1.3"/>
<line x1="939.6" y1="936.5" x2="936.6" y2="934.8" stroke="#777" stroke-width="1.3"/>
<line x1="943.3" y1="930.8" x2="940.8" y2="928.4" stroke="#777" stroke-width="1.3"/>
<line x1="947.7" y1="925.7" x2="945.7" y2="922.6" stroke="#777" stroke-width="1.3"/>
<line x1="952.6" y1="921.5" x2="951.3" y2="917.9" stroke="#777" stroke-width="1.3"/>
<line x1="957.8" y1="918.3" x2="957.2" y2="914.3" stroke="#777" stroke-width="1.3"/>
<line x1="963.1" y1="916.3" x2="963.2" y2="912.1" stroke="#777" stroke-width="1.3"/>
<line x1="968.3" y1="915.5" x2="969.1" y2="911.2" stroke="#777" stroke-width="1.3"/>
<line x1="973.2" y1="915.9" x2="974.7" y2="911.7" stroke="#777" stroke-width="1.3"/>
<line x1="977.6" y1="917.6" x2="979.8" y2="913.7" stroke="#777" stroke-width="1.3"/>
<line x1="981.4" y1="920.5" x2="984.1" y2="916.9" stroke="#777" stroke-width="1.3"/>
<line x1="984.3" y1="924.4" x2="987.5" y2="921.4" stroke="#777" stroke-width="1.3"/>
<line x1="986.4" y1="929.2" x2="989.9" y2="926.9" stroke="#777" stroke-width="1.3"/>
<line x1="987.5" y1="934.8" x2="991.2" y2="933.2" stroke="#777" stroke-width="1.3"/>
<line x1="987.5" y1="940.9" x2="991.2" y2="940.1" stroke="#777" stroke-width="1.3"/>
<line x1="986.5" y1="947.3" x2="990.2" y2="947.3" stroke="#777" stroke-width="1.3"/>
<line x1="984.5" y1="953.7" x2="987.9" y2="954.6" stroke="#777" stroke-width="1.3"/>
<path d="M988.2,976.5 a24.2,39 0 1,0 48.4,0 a24.2,39 0 1,0 -48.4,0 Z M992.5,976.5 a19.8,32 0 1,0 39.7,0 a19.8,32 0 1,0 -39.7,0 Z" fill="#ababab" fill-rule="evenodd" stroke="#505050" stroke-width="1.1" transform="rotate(29.1 1012.4 976.5)"/>
<path d="M990.8,978 a24.2,39 0 1,0 48.4,0 a24.2,39 0 1,0 -48.4,0 Z M995.2,978 a19.8,32 0 1,0 39.7,0 a19.8,32 0 1,0 -39.7,0 Z" fill="#ababab" fill-rule="evenodd" stroke="#505050" stroke-width="1.1" transform="rotate(29.1 1015 978)"/>
<path d="M1038.8,1005.5 a24.3,38 0 1,0 48.6,0 a24.3,38 0 1,0 -48.6,0 Z M1042.6,1005.5 a20.5,32 0 1,0 41,0 a20.5,32 0 1,0 -41,0 Z" fill="#adadad" fill-rule="evenodd" stroke="#505050" stroke-width="1.1" transform="rotate(29.1 1063.1 1005.5)"/>
<path d="M1041.4,1007 a24.3,38 0 1,0 48.6,0 a24.3,38 0 1,0 -48.6,0 Z M1045.2,1007 a20.5,32 0 1,0 41,0 a20.5,32 0 1,0 -41,0 Z" fill="#adadad" fill-rule="evenodd" stroke="#505050" stroke-width="1.1" transform="rotate(29.1 1065.7 1007)"/>
<ellipse cx="1113.5" cy="1033" rx="20.5" ry="31" fill="none" stroke="#777" stroke-width="1.8" transform="rotate(29.1 1113.5 1033)" />
<line x1="1089.8" y1="1045" x2="1090.8" y2="1051" stroke="#f8f8f8" stroke-width="3.5"/>
<ellipse cx="1150" cy="1053" rx="12.5" ry="19" fill="#a8a8a8" stroke="#4a4a4a" stroke-width="1.3" transform="rotate(29.1 1150 1053)" />
<ellipse cx="1154" cy="1056" rx="11.6" ry="17.5" fill="#b6b6b6" stroke="#4a4a4a" stroke-width="1.3" transform="rotate(29.1 1154 1056)" />
<polygon points="1145.5,1071.3 1162.5,1080.8 1179.5,1050.2 1162.5,1040.7" fill="#b6b6b6" stroke="none"/>
<line x1="1145.5" y1="1071.3" x2="1162.5" y2="1080.8" stroke="#4a4a4a" stroke-width="1.3"/>
<line x1="1162.5" y1="1040.7" x2="1179.5" y2="1050.2" stroke="#4a4a4a" stroke-width="1.3"/>
<ellipse cx="1171" cy="1065.5" rx="11.6" ry="17.5" fill="#c6c6c6" stroke="#4a4a4a" stroke-width="1.3" transform="rotate(29.1 1171 1065.5)" />
<ellipse cx="1172" cy="1066" rx="7.5" ry="11.5" fill="#a6a6a6" stroke="#6a6a6a" stroke-width="1" transform="rotate(29.1 1172 1066)" />
<rect x="811.7" y="135.4" width="107.6" height="236.9" fill="none" stroke="#555" stroke-width="1.6"/>
<line x1="865.4" y1="122" x2="865.4" y2="135.4" stroke="#484848" stroke-width="1.6"/>
<path d="M860,154 Q864.5,149 869,154 L871.5,171 Q864.5,176 857.5,171 Z" fill="#a4a4a4" stroke="#666" stroke-width="1.1"/>
<line x1="864.5" y1="154" x2="864.5" y2="171" stroke="#c8c8c8" stroke-width="2"/>
<ellipse cx="864.5" cy="196.5" rx="6" ry="9" fill="#a0a0a0" stroke="#555" stroke-width="1.3" transform="rotate(90 864.5 196.5)" />
<ellipse cx="864.5" cy="197.5" rx="3.2" ry="5.5" fill="#b8b8b8" stroke="none" stroke-width="0" transform="rotate(90 864.5 197.5)" />
<ellipse cx="865" cy="220.5" rx="4" ry="6.5" fill="none" stroke="#777" stroke-width="2" transform="rotate(90 865 220.5)" />
<path d="M855,248 Q858,238 866,238 Q875,239 875,248 Q872,253 865,251 Q858,252 855,248 Z" fill="#9e9e9e" stroke="#555" stroke-width="1.1"/>
<ellipse cx="866" cy="243.5" rx="2.5" ry="5" fill="#e0e0e0" stroke="none" stroke-width="0" transform="rotate(90 866 243.5)" />
<path d="M863,268.5 Q864.7,265.5 866.5,268.5 L868,272 L868,284 L869.8,286.5 L869.8,340 L872.5,345 L872.5,355 Q864.5,360 856.5,355 L856.5,345 L859.8,340 L859.8,286.5 L861.5,284 L861.5,272 Z" fill="#acacac" stroke="#6a6a6a" stroke-width="1.1"/>
<line x1="864.8" y1="287" x2="864.8" y2="339" stroke="#c8c8c8" stroke-width="2.4"/>
<path d="M861.8,275 h6 M861.8,278.5 h6 M861.8,282 h6" stroke="#8a8a8a" stroke-width="0.8"/>
<line x1="993.7" y1="121" x2="993.7" y2="149.4" stroke="#484848" stroke-width="1.6"/>
<path d="M981,162 L981,165.5 Q982,171 994,170.5 Q1007,169 1007.5,161.5 L1007.5,158 Z" fill="#8e8e8e" stroke="#555" stroke-width="1"/>
<ellipse cx="994.2" cy="159.5" rx="13.5" ry="6.8" fill="#b4b4b4" stroke="#5a5a5a" stroke-width="1.1" transform="rotate(-22 994.2 159.5)" />
<ellipse cx="994.5" cy="159" rx="3" ry="2" fill="#909090" stroke="none" stroke-width="0" transform="rotate(-22 994.5 159)" />
<line x1="1113.9" y1="121" x2="1113.9" y2="141.8" stroke="#484848" stroke-width="1.6"/>
<path d="M1063,176.5 L1153,125.5 L1157,132.5 L1067,183.5 Z" fill="#a0a0a0" stroke="#6a6a6a" stroke-width="1"/>
<line x1="1064" y1="179" x2="1154" y2="128" stroke="#bababa" stroke-width="1.4"/>
<ellipse cx="1064" cy="181" rx="5.5" ry="8.5" fill="#a6a6a6" stroke="#555" stroke-width="1.1" transform="rotate(-60 1064 181)" />
<ellipse cx="1155" cy="129.5" rx="5.5" ry="8.5" fill="#a6a6a6" stroke="#555" stroke-width="1.1" transform="rotate(-60 1155 129.5)" />
<ellipse cx="1063.5" cy="180" rx="2.5" ry="4.5" fill="#c4c4c4" stroke="none" stroke-width="0" transform="rotate(-60 1063.5 180)" />
<ellipse cx="1154.5" cy="128.5" rx="2.5" ry="4.5" fill="#c4c4c4" stroke="none" stroke-width="0" transform="rotate(-60 1154.5 128.5)" />
<line x1="1087.5" y1="280" x2="1087.5" y2="303" stroke="#484848" stroke-width="1.6"/>
<path d="M1043,334 L973.5,373.2 L990.9,383 L1056.6,345 M1062,341.8 L1132.6,303.8 L1115.2,294 L1047,331.5" fill="none" stroke="#555" stroke-width="1.2"/>
<path d="M1043,334 q5,5 2,7 q-3,3 2,6 M1047,331.5 q5,4 2,7 q-3,3 3,6" fill="none" stroke="#777" stroke-width="0.9"/>
<line x1="998.5" y1="438" x2="998.5" y2="453.2" stroke="#484848" stroke-width="1.6"/>
<rect x="802.4" y="453.2" width="394.4" height="77" fill="none" stroke="#555" stroke-width="1.6"/>
<path d="M817,500.8 Q1000,451 1182.5,498" fill="none" stroke="#7a7a7a" stroke-width="8"/>
<path d="M819,500 Q1000,451 1180,497" fill="none" stroke="#c4c4c4" stroke-width="3" stroke-dasharray="4 1.5"/>
<rect x="969.2" y="499" width="58.3" height="16" rx="3" fill="#6a6a6a"/>
<path d="M973,504 h50 M973,510 h35 M1012,510 h10" stroke="#c8c8c8" stroke-width="1.8" stroke-dasharray="2 1"/>
<line x1="941.2" y1="619" x2="941.2" y2="639.2" stroke="#484848" stroke-width="1.6"/>
<defs><linearGradient id="g27" x1="0" y1="0" x2="1" y2="0"><stop offset="0" stop-color="#8c8c8c"/><stop offset="0.2" stop-color="#bcbcbc"/><stop offset="0.8" stop-color="#b8b8b8"/><stop offset="1" stop-color="#8c8c8c"/></linearGradient></defs>
<path d="M913.5,652 L913.5,679 Q913.5,684 918,690 Q913,698 913,709 Q915,718 941,718 Q967,718 969,709 Q969,698 964,690 Q968.5,684 968.5,679 L968.5,652 Z" fill="url(#g27)" stroke="#3a3a3a" stroke-width="1.3"/>
<ellipse cx="941" cy="652" rx="9" ry="27.5" fill="#cdcdcd" stroke="#4a4a4a" stroke-width="1.2" transform="rotate(90 941 652)" />
<ellipse cx="941" cy="655" rx="6" ry="25" fill="#bdbdbd" stroke="#8a8a8a" stroke-width="0.9" transform="rotate(90 941 655)" />
<path d="M916,663 Q941,681 966,663" fill="none" stroke="#888" stroke-width="1.1"/>
<path d="M914,679 Q941,694 968,679" fill="none" stroke="#9a9a9a" stroke-width="1"/>
<line x1="1038.3" y1="619" x2="1038.3" y2="643" stroke="#484848" stroke-width="1.6"/>
<path d="M1014,672 L1014,708 Q1014,719 1039.5,719 Q1065,719 1065,708 L1065,672 Q1062,665 1039.5,665 Q1017,665 1014,672 Z" fill="#dedede" stroke="#3a3a3a" stroke-width="1.3"/>
<path d="M1018,659 L1018,670 Q1018,679 1039.5,679 Q1061,679 1061,670 L1061,659 Z" fill="#cfcfcf" stroke="#555" stroke-width="1.1"/>
<ellipse cx="1039.5" cy="659" rx="12" ry="21.5" fill="#f0f0f0" stroke="#555" stroke-width="1.3" transform="rotate(90 1039.5 659)" />
<rect x="1024" y="690" width="32" height="11" fill="#333"/>
<path d="M1022,705 h20 M1022,709 h24 M1022,713 h18" stroke="#9a9a9a" stroke-width="1"/>
<path d="M265.8,495.9 L240.3,495.9 L240.3,475.3 L348.1,475.3 L348.1,495.9 L279.8,495.9" fill="#fafafa" stroke="#7a7a7a" stroke-width="1.7"/>
<path d="M265.8,495.9 L260,531.7 L279.8,495.9" fill="none" stroke="#6a6a6a" stroke-width="1.5"/>
<text x="245.2" y="490.6" font-size="13" textLength="96.4" lengthAdjust="spacingAndGlyphs" style="fill:#333">5/32″ x 15 pcs.</text>
<path d="M477.8,607.5 L445.3,607.5 L445.3,586.9 L553.1,586.9 L553.1,607.5 L492.4,607.5" fill="#fafafa" stroke="#7a7a7a" stroke-width="1.7"/>
<path d="M477.8,607.5 L468,643 L492.4,607.5" fill="none" stroke="#6a6a6a" stroke-width="1.5"/>
<text x="450.2" y="602.1" font-size="13" textLength="97" lengthAdjust="spacingAndGlyphs" style="fill:#333">3/16″ x 13 pcs.</text>
<rect x="9.2" y="411.7" width="18.3" height="18.3" rx="2.5" fill="none" stroke="#6a6a6a" stroke-width="1.5"/>
<path d="M12.7,416.7 h11.3 M13.2,415.2 v4 M13.2,421.2 h10.3" stroke="#333" stroke-width="1.6"/>
<text x="18.35" y="427.5" font-size="7" font-weight="bold" text-anchor="middle">17</text>
<text x="31.5" y="426.2" font-size="16.2" textLength="72" lengthAdjust="spacingAndGlyphs" style="fill:#2a2a2a">16 - 20 N·m</text>
<path d="M9,433.3 L103,433.3 L119,459" fill="none" stroke="#6a6a6a" stroke-width="2" stroke-dasharray="2.4 5.1"/>
<rect x="7" y="931.7" width="20" height="18.6" rx="2.5" fill="none" stroke="#6a6a6a" stroke-width="1.5"/>
<path d="M10.5,936.7 h13 M11,935.2 v4 M11,941.2 h12" stroke="#333" stroke-width="1.6"/>
<text x="17.0" y="947.8000000000001" font-size="7" font-weight="bold" text-anchor="middle">17</text>
<text x="35" y="945.8" font-size="15.5" textLength="151" lengthAdjust="spacingAndGlyphs" style="fill:#2a2a2a">17 mm hub spanner x 2</text>
<circle cx="389.8" cy="85.4" r="10.6" fill="#fafafa" stroke="#707070" stroke-width="1.5"/>
<text x="389.8" y="91" font-size="15.5" textLength="12.6" lengthAdjust="spacingAndGlyphs" text-anchor="middle">19</text>
<circle cx="390" cy="144" r="10.6" fill="#fafafa" stroke="#707070" stroke-width="1.5"/>
<text x="390" y="149.6" font-size="15.5" textLength="12.6" lengthAdjust="spacingAndGlyphs" text-anchor="middle">19</text>
<circle cx="321" cy="221" r="10.6" fill="#fafafa" stroke="#707070" stroke-width="1.5"/>
<text x="321" y="226.6" font-size="15.5" textLength="12.6" lengthAdjust="spacingAndGlyphs" text-anchor="middle">18</text>
<circle cx="389.9" cy="299.5" r="10.6" fill="#fafafa" stroke="#707070" stroke-width="1.5"/>
<text x="389.9" y="305.1" font-size="15.5" textLength="12.6" lengthAdjust="spacingAndGlyphs" text-anchor="middle">20</text>
<circle cx="389.9" cy="405.3" r="10.6" fill="#fafafa" stroke="#707070" stroke-width="1.5"/>
<text x="389.9" y="410.9" font-size="15.5" textLength="12.6" lengthAdjust="spacingAndGlyphs" text-anchor="middle">21</text>
<circle cx="179.5" cy="345" r="10.6" fill="#fafafa" stroke="#707070" stroke-width="1.5"/>
<text x="179.5" y="350.6" font-size="15.5" textLength="12.6" lengthAdjust="spacingAndGlyphs" text-anchor="middle">17</text>
<circle cx="214" cy="481.7" r="10.6" fill="#fafafa" stroke="#707070" stroke-width="1.5"/>
<text x="214" y="487.3" font-size="15.5" textLength="12.6" lengthAdjust="spacingAndGlyphs" text-anchor="middle">16</text>
<circle cx="74.5" cy="516" r="10.6" fill="#fafafa" stroke="#707070" stroke-width="1.5"/>
<text x="74.5" y="521.6" font-size="15.5" textLength="7.6" lengthAdjust="spacingAndGlyphs" text-anchor="middle">6</text>
<circle cx="115.5" cy="540.5" r="10.6" fill="#fafafa" stroke="#707070" stroke-width="1.5"/>
<text x="115.5" y="546.1" font-size="15.5" textLength="7.6" lengthAdjust="spacingAndGlyphs" text-anchor="middle">5</text>
<circle cx="203.3" cy="591.7" r="10.6" fill="#fafafa" stroke="#707070" stroke-width="1.5"/>
<text x="203.3" y="597.3" font-size="15.5" textLength="7.6" lengthAdjust="spacingAndGlyphs" text-anchor="middle">4</text>
<circle cx="408.3" cy="706.7" r="10.6" fill="#fafafa" stroke="#707070" stroke-width="1.5"/>
<text x="408.3" y="712.3" font-size="15.5" textLength="7.6" lengthAdjust="spacingAndGlyphs" text-anchor="middle">3</text>
<circle cx="535.8" cy="654" r="10.6" fill="#fafafa" stroke="#707070" stroke-width="1.5"/>
<text x="535.8" y="659.6" font-size="15.5" textLength="12.6" lengthAdjust="spacingAndGlyphs" text-anchor="middle">15</text>
<circle cx="556.8" cy="873.6" r="10.6" fill="#fafafa" stroke="#707070" stroke-width="1.5"/>
<text x="556.8" y="879.2" font-size="15.5" textLength="7.6" lengthAdjust="spacingAndGlyphs" text-anchor="middle">1</text>
<circle cx="773.3" cy="765.8" r="10.6" fill="#fafafa" stroke="#707070" stroke-width="1.5"/>
<text x="773.3" y="771.4" font-size="15.5" textLength="12.6" lengthAdjust="spacingAndGlyphs" text-anchor="middle">14</text>
<circle cx="819.2" cy="793.3" r="10.6" fill="#fafafa" stroke="#707070" stroke-width="1.5"/>
<text x="819.2" y="798.9" font-size="15.5" textLength="12.6" lengthAdjust="spacingAndGlyphs" text-anchor="middle">13</text>
<circle cx="866.7" cy="817.5" r="10.6" fill="#fafafa" stroke="#707070" stroke-width="1.5"/>
<text x="866.7" y="823.1" font-size="15.5" textLength="12.6" lengthAdjust="spacingAndGlyphs" text-anchor="middle">12</text>
<circle cx="1010.6" cy="819.2" r="10.6" fill="#fafafa" stroke="#707070" stroke-width="1.5"/>
<text x="1010.6" y="824.8" font-size="15.5" textLength="12.6" lengthAdjust="spacingAndGlyphs" text-anchor="middle">10</text>
<circle cx="1023" cy="905" r="10.6" fill="#fafafa" stroke="#707070" stroke-width="1.5"/>
<text x="1023" y="910.6" font-size="15.5" textLength="12.6" lengthAdjust="spacingAndGlyphs" text-anchor="middle">11</text>
<circle cx="1069.6" cy="932" r="10.6" fill="#fafafa" stroke="#707070" stroke-width="1.5"/>
<text x="1069.6" y="937.6" font-size="15.5" textLength="7.6" lengthAdjust="spacingAndGlyphs" text-anchor="middle">9</text>
<circle cx="1119" cy="958" r="10.6" fill="#fafafa" stroke="#707070" stroke-width="1.5"/>
<text x="1119" y="963.6" font-size="15.5" textLength="7.6" lengthAdjust="spacingAndGlyphs" text-anchor="middle">8</text>
<circle cx="1170.6" cy="987" r="10.6" fill="#fafafa" stroke="#707070" stroke-width="1.5"/>
<text x="1170.6" y="992.6" font-size="15.5" textLength="7.6" lengthAdjust="spacingAndGlyphs" text-anchor="middle">7</text>
<circle cx="1118" cy="1101.7" r="10.6" fill="#fafafa" stroke="#707070" stroke-width="1.5"/>
<text x="1118" y="1107.3" font-size="15.5" textLength="7.6" lengthAdjust="spacingAndGlyphs" text-anchor="middle">2</text>
<circle cx="865.4" cy="111.3" r="10.6" fill="#fafafa" stroke="#707070" stroke-width="1.5"/>
<text x="865.4" y="116.9" font-size="15.5" textLength="12.6" lengthAdjust="spacingAndGlyphs" text-anchor="middle">22</text>
<circle cx="993.7" cy="110.1" r="10.6" fill="#fafafa" stroke="#707070" stroke-width="1.5"/>
<text x="993.7" y="115.7" font-size="15.5" textLength="12.6" lengthAdjust="spacingAndGlyphs" text-anchor="middle">23</text>
<circle cx="1113.9" cy="110.1" r="10.6" fill="#fafafa" stroke="#707070" stroke-width="1.5"/>
<text x="1113.9" y="115.7" font-size="15.5" textLength="12.6" lengthAdjust="spacingAndGlyphs" text-anchor="middle">24</text>
<circle cx="1087.5" cy="269" r="10.6" fill="#fafafa" stroke="#707070" stroke-width="1.5"/>
<text x="1087.5" y="274.6" font-size="15.5" textLength="12.6" lengthAdjust="spacingAndGlyphs" text-anchor="middle">25</text>
<circle cx="998.5" cy="427.5" r="10.6" fill="#fafafa" stroke="#707070" stroke-width="1.5"/>
<text x="998.5" y="433.1" font-size="15.5" textLength="12.6" lengthAdjust="spacingAndGlyphs" text-anchor="middle">26</text>
<circle cx="941.2" cy="608.3" r="10.6" fill="#fafafa" stroke="#707070" stroke-width="1.5"/>
<text x="941.2" y="613.9" font-size="15.5" textLength="12.6" lengthAdjust="spacingAndGlyphs" text-anchor="middle">27</text>
<circle cx="1038.3" cy="608.3" r="10.6" fill="#fafafa" stroke="#707070" stroke-width="1.5"/>
<text x="1038.3" y="613.9" font-size="15.5" textLength="12.6" lengthAdjust="spacingAndGlyphs" text-anchor="middle">28</text>
</svg></body></html>
